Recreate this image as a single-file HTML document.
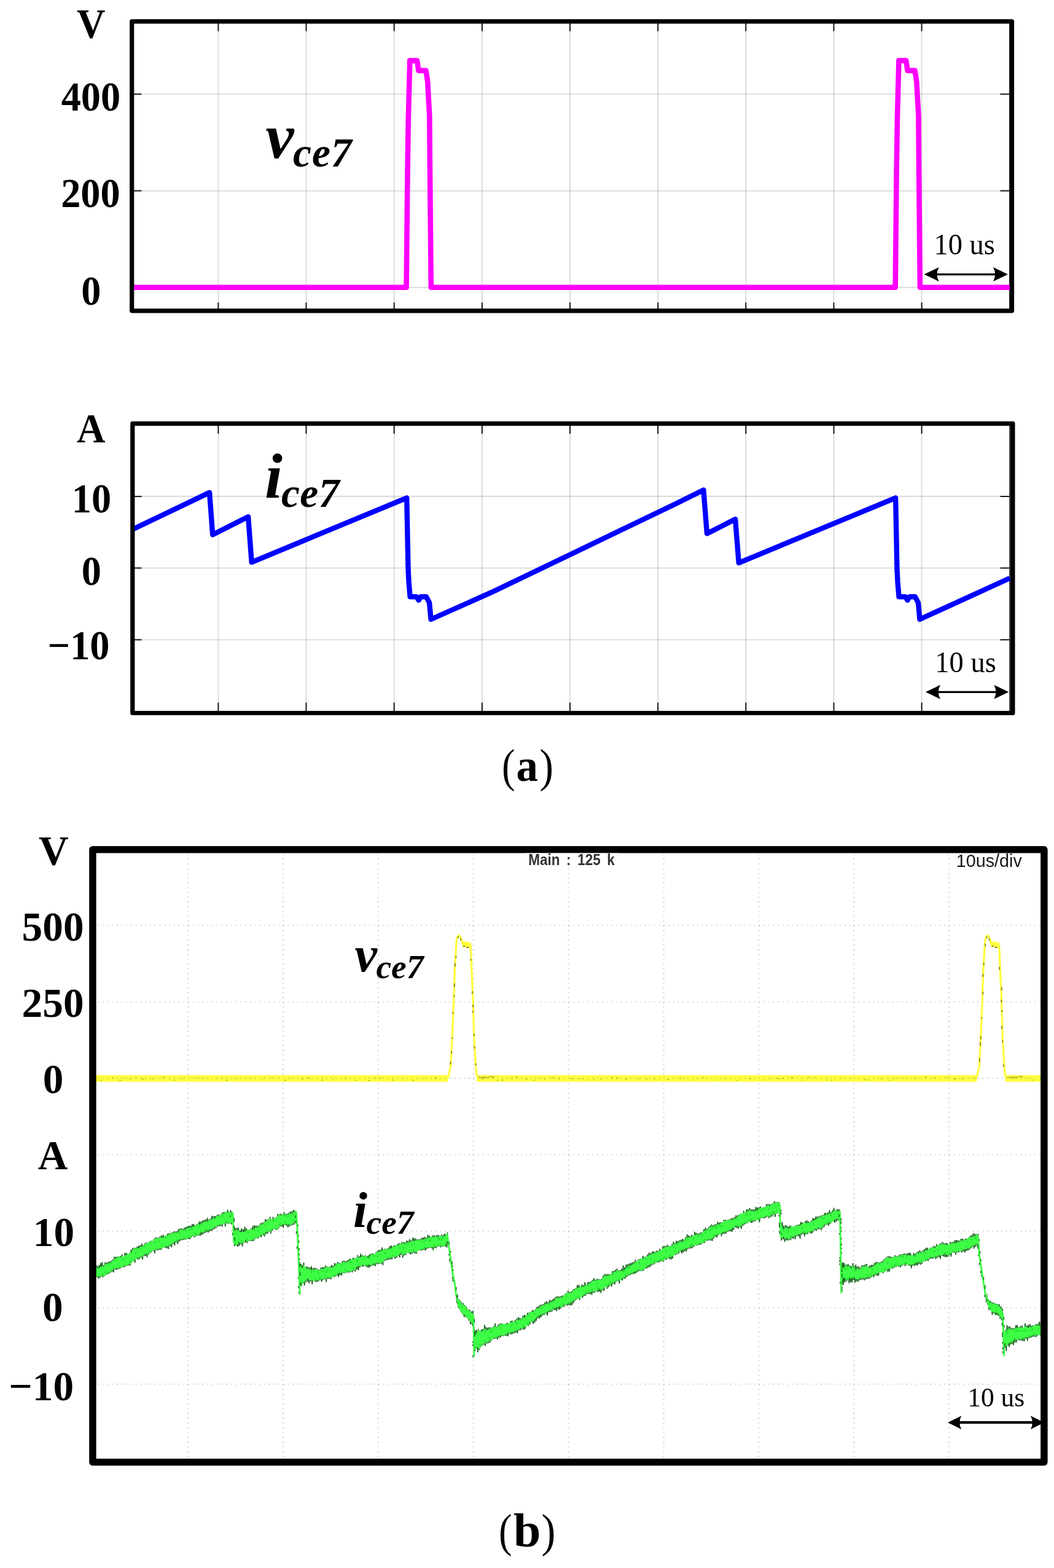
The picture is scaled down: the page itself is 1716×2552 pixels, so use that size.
<!DOCTYPE html>
<html lang="en"><head><meta charset="utf-8"><title>Waveforms of vce7 and ice7</title>
<style>
html,body{margin:0;padding:0;background:#fff;}
body{width:1716px;height:2552px;overflow:hidden;}
svg{display:block;}
.b{font-family:"Liberation Serif",serif;font-weight:bold;font-size:66px;fill:#000;text-anchor:middle;}
.r{font-family:"Liberation Serif",serif;font-size:48px;fill:#000;text-anchor:middle;}
.bi{font-family:"Liberation Serif",serif;font-weight:bold;font-style:italic;fill:#000;}
.cap{font-family:"Liberation Serif",serif;fill:#000;}
.s{font-family:"Liberation Sans",sans-serif;fill:#222;}
</style></head><body>
<svg width="1716" height="2552" viewBox="0 0 1716 2552">
<rect width="1716" height="2552" fill="#fff"/>
<path d="M355.4 34.9V505.8M498.5 34.9V505.8M641.7 34.9V505.8M784.9 34.9V505.8M928 34.9V505.8M1071.2 34.9V505.8M1214.3 34.9V505.8M1357.5 34.9V505.8M1500.6 34.9V505.8" stroke="#000" stroke-opacity="0.13" stroke-width="2.1" fill="none"/>
<path d="M214.7 153.3H1647.5M214.7 310.6H1647.5M214.7 467.9H1647.5" stroke="#000" stroke-opacity="0.13" stroke-width="2.1" fill="none"/>
<path d="M355.4 37.9V50.7M355.4 502.8V492.3M498.5 37.9V50.7M498.5 502.8V492.3M641.7 37.9V50.7M641.7 502.8V492.3M784.9 37.9V50.7M784.9 502.8V492.3M928 37.9V50.7M928 502.8V492.3M1071.2 37.9V50.7M1071.2 502.8V492.3M1214.3 37.9V50.7M1214.3 502.8V492.3M1357.5 37.9V50.7M1357.5 502.8V492.3M1500.6 37.9V50.7M1500.6 502.8V492.3M217.7 153.3H230.4M1643.2 153.3H1628.4M217.7 310.6H230.4M1643.2 310.6H1628.4" stroke="#1a1a1a" stroke-width="2" fill="none"/>
<path d="M1644.3 37.9V502.8" stroke="#2b2b2b" stroke-width="2.6" fill="none"/>
<polyline points="214,467.7 661.6,467.7 663.5,280 664.8,194 667.3,98.6 679,98.6 681.5,114.9 693.4,114.9 696.2,132.7 699.3,188.2 700,280 701.8,467.7 1457.7,467.7 1459.6,280 1460.9,194 1463.4,98.6 1475.1,98.6 1477.6,114.9 1489.5,114.9 1492.3,132.7 1495.4,188.2 1496.1,280 1497.9,467.7 1644,467.7" fill="none" stroke="#ff00ff" stroke-width="8.6" stroke-linejoin="round"/>
<rect x="214.7" y="34.9" width="1432.8" height="470.9" fill="none" stroke="#000" stroke-width="7.2" stroke-linejoin="round"/>
<text class="b" transform="translate(148.30 61.00) scale(0.975 1.025)">V</text>
<text class="b" transform="translate(147.90 180.40) scale(0.975 1.025)">400</text>
<text class="b" transform="translate(147.40 337.40) scale(0.975 1.025)">200</text>
<text class="b" transform="translate(148.40 495.60) scale(0.975 1.025)">0</text>
<text class="bi" x="432.50" y="257.20" font-size="103.5">v<tspan font-size="67.5" dy="14" dx="-1.5" letter-spacing="1">ce7</tspan></text>
<text transform="translate(1520.47 414.15) scale(0.4653 0.4799)" style="font-family:'Liberation Serif',serif;font-size:100px" fill="#000">10 us</text>
<path d="M1523.8 446.6H1621.8" stroke="#000" stroke-width="3.3" fill="none"/>
<path d="M1504.6 446.6L1528.6 435.1Q1522.4 446.6 1528.6 458.1Z" fill="#000"/>
<path d="M1641 446.6L1617 435.1Q1623.2 446.6 1617 458.1Z" fill="#000"/>
<path d="M355.4 689.3V1160.5M498.5 689.3V1160.5M641.7 689.3V1160.5M784.9 689.3V1160.5M928 689.3V1160.5M1071.2 689.3V1160.5M1214.3 689.3V1160.5M1357.5 689.3V1160.5M1500.6 689.3V1160.5" stroke="#000" stroke-opacity="0.13" stroke-width="2.1" fill="none"/>
<path d="M215.8 807.9H1648.9M215.8 924.5H1648.9M215.8 1041.2H1648.9" stroke="#000" stroke-opacity="0.13" stroke-width="2.1" fill="none"/>
<path d="M355.4 692.3V705.9M355.4 1157.5V1143.6M498.5 692.3V705.9M498.5 1157.5V1143.6M641.7 692.3V705.9M641.7 1157.5V1143.6M784.9 692.3V705.9M784.9 1157.5V1143.6M928 692.3V705.9M928 1157.5V1143.6M1071.2 692.3V705.9M1071.2 1157.5V1143.6M1214.3 692.3V705.9M1214.3 1157.5V1143.6M1357.5 692.3V705.9M1357.5 1157.5V1143.6M1500.6 692.3V705.9M1500.6 1157.5V1143.6M218.8 807.9H230.6M1643.4 807.9H1628.5M218.8 924.5H230.6M1643.4 924.5H1628.5M218.8 1041.2H230.6M1643.4 1041.2H1628.5" stroke="#1a1a1a" stroke-width="2" fill="none"/>
<path d="M1644.5 692.3V1157.5" stroke="#2b2b2b" stroke-width="2.6" fill="none"/>
<polyline points="215,862 341.1,801.6 346.2,870.2 404.1,841.1 409.7,915.1 662.2,810.3 663.6,880 664.5,925 665.6,947 667.6,971.2 677.9,971.2 681.7,976.8 685,971.2 693.9,971.2 699,980.7 701.6,1008 800,964.2 940,897 1100,820 1145.4,797.5 1151,868.4 1197.1,845 1202.8,916.1 1458.1,810.3 1459.5,880 1460.4,925 1461.5,947 1463.5,971.2 1473.8,971.2 1477.6,976.8 1480.9,971.2 1489.8,971.2 1494.9,980.7 1497.5,1008 1644,941" fill="none" stroke="#0000ff" stroke-width="8.4" stroke-linejoin="round"/>
<rect x="215.8" y="689.3" width="1433.1" height="471.2" fill="none" stroke="#000" stroke-width="7.2" stroke-linejoin="round"/>
<text class="b" transform="translate(148.30 720.00) scale(0.975 1.025)">A</text>
<text class="b" transform="translate(148.90 833.50) scale(0.975 1.025)">10</text>
<text class="b" transform="translate(148.90 952.30) scale(0.975 1.025)">0</text>
<text class="b" transform="translate(128.00 1073.00) scale(0.975 1.025)">−10</text>
<text class="bi" x="431.00" y="810.30" font-size="104">i<tspan font-size="67.5" dy="14.3" dx="-2" letter-spacing="0.5">ce7</tspan></text>
<text transform="translate(1522.37 1094.05) scale(0.4648 0.4828)" style="font-family:'Liberation Serif',serif;font-size:100px" fill="#000">10 us</text>
<path d="M1526.1 1126.3H1623.1" stroke="#000" stroke-width="3.3" fill="none"/>
<path d="M1506.9 1126.3L1530.9 1114.8Q1524.7 1126.3 1530.9 1137.8Z" fill="#000"/>
<path d="M1642.3 1126.3L1618.3 1114.8Q1624.5 1126.3 1618.3 1137.8Z" fill="#000"/>
<text transform="translate(816.98 1271.75) scale(0.6501 0.7603)" style="font-family:'Liberation Serif',serif;font-size:100px" fill="#000">(</text>
<text transform="translate(840.61 1270.95) scale(0.7079 0.7386)" style="font-family:'Liberation Serif',serif;font-weight:bold;font-size:100px" fill="#000">a</text>
<text transform="translate(878.60 1271.75) scale(0.6767 0.7603)" style="font-family:'Liberation Serif',serif;font-size:100px" fill="#000">)</text>
<path d="M306.1 1389.3V2379.8M461 1389.3V2379.8M615.9 1389.3V2379.8M770.7 1389.3V2379.8M925.6 1389.3V2379.8M1080.5 1389.3V2379.8M1235.3 1389.3V2379.8M1390.2 1389.3V2379.8M1545.1 1389.3V2379.8" stroke="#000" stroke-opacity="0.16" stroke-width="2.1" stroke-dasharray="2.1 5.678" fill="none"/>
<path d="M158.8 1506H1699.9M158.8 1630.5H1699.9M158.8 1879.3H1699.9M158.8 2003.8H1699.9M158.8 2128.2H1699.9M158.8 2252.7H1699.9" stroke="#000" stroke-opacity="0.16" stroke-width="2.1" stroke-dasharray="2.1 5.644" fill="none"/>
<path d="M152 1755.3H729.5" stroke="#ffff40" stroke-width="10.9" fill="none"/>
<path d="M775.8 1755.3H1590" stroke="#ffff40" stroke-width="10.9" fill="none"/>
<path d="M1636.3 1755.3H1696" stroke="#ffff40" stroke-width="10.9" fill="none"/>
<polyline points="728.6,1755.3 730.5,1750 733.7,1735 736.2,1690 738.7,1630 740.2,1582 743.1,1532 744.8,1524.5 747.6,1522.3 750.6,1527 753,1535.5 759,1537 766,1538 767,1556.5 768,1582 769.9,1620.3 772,1690 774.5,1735.1 776.3,1752" fill="none" stroke="#ffff40" stroke-width="3.3" stroke-linejoin="round"/>
<path d="M751 1531L766.5 1534V1543L753 1541Z" fill="#ffff40"/>
<path d="M733.4 1727.7v4.8M735.1 1710.9v3.8M736.3 1688.3v2.6M737.1 1647v2.8M739.7 1619.8v2.9M739.9 1600.6v5.8M740.8 1567.6v5.9M742.4 1555.8v3.5M766.4 1560.2v3.6M768.9 1613.3v4.5M770.1 1635.1v4.4M769.8 1645v3.2M771.6 1682.6v3.6M772.6 1703.2v3.5M774.6 1730.5v3.4M754 1540h3M759 1542h4M746 1524v3M750 1527v4" stroke="#5f5f10" stroke-width="1.8" fill="none" stroke-opacity="0.75"/>
<polyline points="1589.1,1755.3 1591,1750 1594.2,1735 1596.7,1690 1599.2,1630 1600.7,1582 1603.6,1532 1605.3,1524.5 1608.1,1522.3 1611.1,1527 1613.5,1535.5 1619.5,1537 1626.5,1538 1627.5,1556.5 1628.5,1582 1630.4,1620.3 1632.5,1690 1635,1735.1 1636.8,1752" fill="none" stroke="#ffff40" stroke-width="3.3" stroke-linejoin="round"/>
<path d="M1611.5 1531L1627 1534V1543L1613.5 1541Z" fill="#ffff40"/>
<path d="M1595 1722.1v5.6M1595.9 1696.1v5.9M1596.7 1686.5v5.1M1598.1 1655.4v2.6M1600.2 1614v4.5M1600.2 1585v4.9M1601.7 1567.1v4.1M1604.3 1536v4.2M1627.3 1573.4v5M1630.7 1606.8v5.4M1630.4 1626.9v4.8M1631 1644.1v3.1M1631 1669.5v5.2M1632.2 1692.9v3.9M1634 1732.2v4.1M1614.5 1540h3M1619.5 1542h4M1606.5 1524v3M1610.5 1527v4" stroke="#5f5f10" stroke-width="1.8" fill="none" stroke-opacity="0.75"/>
<path d="M163 1758.2h3M182.7 1754.8h2M193.8 1758.2h3.4M201.3 1754.3h1.6M210.3 1756h2.5M219.8 1753.3h2M231.1 1756.4h3.4M247.8 1756.1h2.5M264.3 1753.6h3.2M282.5 1758.1h3M294.2 1755.5h1.3M310 1753.6h1.2M318.5 1754.2h1.9M324.4 1753.3h1.4M331.2 1755.3h1.1M351 1756.7h1.4M360.3 1755.2h1.9M367.4 1758h3.5M380.3 1756h1.2M387.1 1755.2h1.7M406.2 1754.2h1.1M427.3 1756.2h1.4M441.6 1753.4h2.3M463.2 1758h2.7M472.6 1755.3h1.4M490.8 1756.2h2.9M501.4 1754.5h3M523.1 1758h3M542 1757.4h1.6M555.8 1755.3h1.1M561.3 1754.8h1.6M578.1 1758.6h2.1M599 1758.7h3.4M610.2 1754.5h1.6M618.5 1754.4h2.6M638.8 1757.9h2.2M654.9 1757.7h1.2M671.2 1758.3h3M688.9 1755.9h1.4M707.3 1755.1h3M783.7 1755.5h3.4M801 1754.2h1.3M808.6 1758.3h3M816.1 1757.8h3.5M832.3 1755.2h2.4M839.5 1753.4h3.4M855.5 1756.2h3.3M867.9 1758.1h3.1M876.5 1754.7h1.7M885.6 1756.5h1.6M897.7 1754h3.3M908.7 1755.8h2.5M929.1 1755.6h3.3M942.6 1756.2h2.3M947.9 1755.7h1.5M953 1757.7h1.4M966.1 1757.3h2.4M976.6 1756.2h2.4M994.9 1753.9h2.4M1004.2 1754.8h2.9M1017.8 1756.4h2.9M1038.3 1755.7h2.5M1051.9 1756.1h2.7M1064.6 1756.2h2.2M1085.6 1757.1h3.2M1106.6 1754.7h2.4M1127.6 1757.9h1.3M1134.7 1755.7h1.2M1143.8 1753.7h2.7M1162.1 1758.2h1.4M1179.3 1756.9h1.4M1199.3 1758.6h1.5M1220.5 1755.5h2.2M1242.3 1757.9h1.4M1254.7 1756.1h1.8M1263 1755.1h2.8M1268.3 1756.3h2.1M1273.6 1755.1h2.6M1287.3 1753.7h3.5M1305.7 1758.6h1.3M1315.3 1753.5h2.9M1324.9 1754h2.1M1345.4 1757.8h1.6M1352.9 1758.4h2.4M1369.8 1753.8h1.1M1386.5 1755.6h1.2M1407.5 1756.8h3M1413.9 1758h1.2M1433.5 1755.8h1.8M1447.9 1758.4h1.7M1455.1 1756.2h1.6M1462 1754.2h1.1M1470.4 1755h1.8M1488.3 1754.9h2.3M1496.4 1755.2h1M1505.6 1753.4h2.8M1520 1754.3h2.2M1540.9 1753.9h3M1553.2 1756h3.1M1564.9 1756.1h2.7M1586.6 1755.2h3.1M1649 1755.5h1.9M1654.9 1754h1.2M1672.5 1754.7h1.4M1679 1757.9h3.2M779 1752l4 2l5 -1l5 1l6 -2l6 1M1639.5 1752l4 2l5 -1l5 1l6 -2l6 1" stroke="#8f8f1c" stroke-width="1.3" fill="none" stroke-opacity="0.7"/>
<path d="M158.8 1754.9H1699.9" stroke="#000" stroke-opacity="0.17" stroke-width="2.1" stroke-dasharray="2.1 5.644" fill="none"/>
<path d="M152 2063L153.1 2082.6L154.3 2061.1L155.4 2080.8L156.6 2059.1L157.7 2078.4L158.9 2061L160.2 2081.2L161.4 2058.9L162.6 2079.6L163.9 2055.5L165.1 2077.3L166.4 2054.4L167.6 2078.9L168.8 2059.3L170.1 2076.6L171.3 2054.3L172.5 2075.1L173.8 2054.8L175 2073.8L176.3 2053.7L177.5 2072.9L178.7 2053L180 2071.5L181.2 2051.9L182.4 2069.6L183.7 2049.9L184.9 2071L186.2 2045.5L187.4 2065.9L188.6 2045.4L189.9 2067L191.1 2045.5L192.3 2065.4L193.6 2044.8L194.8 2065.1L196.1 2044.3L197.3 2063.8L198.5 2041.3L199.8 2061.9L201 2045.3L202.2 2062.8L203.5 2039.1L204.7 2060.6L206 2039.2L207.2 2060.1L208.5 2041.3L209.7 2059.6L211 2039L212.2 2059.8L213.4 2033.9L214.7 2054.1L215.9 2031.5L217.2 2052.3L218.4 2030.6L219.7 2055.1L220.9 2031.2L222.1 2049.1L223.4 2028.7L224.6 2050.2L225.9 2027.4L227.1 2049.1L228.4 2027L229.6 2047.2L230.9 2024L232.1 2050.3L233.3 2026.7L234.6 2044.5L235.8 2023.8L237.1 2044.3L238.3 2021.7L239.6 2046.4L240.8 2023L242 2042L243.3 2020.6L244.5 2039.8L245.8 2019.2L247 2037.7L248.3 2019.5L249.5 2035.8L250.8 2016.6L252 2040L253.2 2013.9L254.5 2034.5L255.7 2014.2L257 2035.1L258.2 2014.4L259.5 2034.2L260.7 2011.9L262 2034.1L263.2 2010.9L264.4 2031.7L265.7 2009.7L266.9 2030L268.2 2011.7L269.4 2031.1L270.7 2010.6L271.9 2031.7L273.1 2007.7L274.4 2033L275.6 2006.9L276.9 2028.1L278.1 2007.2L279.4 2030.1L280.6 2005.4L281.9 2024.5L283.1 2004.4L284.3 2027.3L285.6 2004.4L286.8 2021.6L288.1 2004.1L289.3 2024.9L290.6 2000.3L291.8 2020.7L293 1999.6L294.3 2019.1L295.5 1999.3L296.8 2018.2L298 2000L299.3 2018L300.5 1998L301.8 2017.4L303 1996.7L304.2 2016.4L305.5 1995.5L306.7 2016.8L307.9 1994.7L309.2 2016.8L310.4 1995L311.6 2013.6L312.9 1992.2L314.1 2011.9L315.4 1992L316.6 2014L317.8 1994.4L319.1 2012.3L320.3 1992.8L321.5 2010.9L322.8 1990.2L324 2010.9L325.2 1987.6L326.5 2011.4L327.7 1988.4L328.9 2009.6L330.2 1986.4L331.4 2008.2L332.7 1985.3L333.9 2006.8L335.1 1985L336.4 2005L337.6 1982.1L338.8 2006.3L340.1 1984.8L341.3 2004.4L342.6 1983.4L343.9 2003.5L345.1 1978.8L346.4 2002.2L347.7 1979.4L349 2000.3L350.2 1979.1L351.5 1998.9L352.8 1978.3L354.1 1996.3L355.3 1976.3L356.6 1996.2L357.9 1977.9L359.1 1995.1L360.4 1975.1L361.7 1996.4L363 1972.7L364.2 1992.2L365.5 1972.5L366.8 1996.1L368 1972.5L369.3 1991.2L370.6 1968.9L371.8 1991.6L373.1 1972.2L374.3 1991.1L375.6 1969.9L376.8 1992.8L378.1 1972.9L379.3 1989.8M380.3 1997.3L381.9 2028.2L383.4 1998.6L384.6 2027.1L385.9 1998.3L387.1 2028.9L388.3 1998.3L389.5 2027.6L390.8 2002.4L392 2025.3L393.3 1999.1L394.6 2028.7L395.9 2000.6L397.2 2022.9L398.6 1996.6L399.9 2022.2L401.2 1999.3L402.5 2023.2L403.8 2001.9L405.1 2019.9L406.4 2001.3L407.6 2019.6L408.9 1999.4L410.2 2020L411.4 1995.6L412.7 2019.9L414 1994L415.3 2016.6L416.6 1994.7L417.8 2015.2L419.1 1995.2L420.4 2015.6L421.7 1994.1L422.9 2012.7L424.2 1990.7L425.5 2013.8L426.8 1989.9L428 2010.4L429.3 1989.6L430.6 2012.4L431.9 1984.4L433.1 2008.6L434.4 1985.4L435.7 2007.9L436.9 1983.7L438.2 2004.1L439.5 1980.5L440.8 2007.4L442.1 1984.8L443.3 2003L444.6 1980.6L445.9 2000.1L447.2 1983L448.4 2001.5L449.7 1980.9L451 2001.7L452.2 1975.7L453.5 1999.4L454.8 1976.2L456.1 1996.1L457.3 1975.3L458.6 1996.2L459.9 1976.7L461.1 1998.4L462.4 1972.9L463.7 1994L464.9 1975.8L466.2 1994.9L467.5 1975.3L468.7 1997.6L470 1974.1L471.3 1996L472.6 1971.9L473.9 1994.7L475.2 1971.5L476.5 1993.9L477.8 1969.1L479 1993.2L480.1 1970.5L481.3 1990.3L482.5 1971.6M487.8 2053.8L488.9 2093.3L489.9 2057L491 2092.7L492.2 2058.9L493.4 2088.5L494.5 2054.7L495.7 2092.1L496.9 2062.2L498.2 2086.7L499.4 2061.1L500.7 2086.3L501.9 2062.4L503.2 2088.6L504.5 2062.5L505.7 2085.5L507 2061L508.3 2090.1L509.6 2063.9L510.9 2084.7L512.2 2063.3L513.4 2086.2L514.7 2063.7L516 2086.8L517.3 2065.6L518.6 2085.4L519.9 2066.6L521.1 2083.5L522.4 2063.1L523.6 2086.1L524.9 2062.2L526.2 2083.5L527.4 2062.4L528.7 2082L530 2059.5L531.2 2086.8L532.5 2061.3L533.7 2081.5L535 2062.5L536.2 2081.5L537.5 2061.1L538.7 2082.1L540 2058.9L541.2 2078.2L542.5 2060.4L543.7 2078.6L544.9 2055.5L546.2 2077.4L547.4 2056.9L548.7 2076.4L549.9 2053.8L551.2 2078.4L552.4 2055.2L553.6 2075.4L554.9 2055.9L556.1 2076L557.4 2052.6L558.6 2072.3L559.9 2051.9L561.1 2072.5L562.4 2052.6L563.6 2071.5L564.8 2051.8L566.1 2070.9L567.3 2050.2L568.6 2071.1L569.8 2048.4L571.1 2069.6L572.3 2049.9L573.5 2070.9L574.8 2047.1L576 2068.3L577.3 2048.6L578.5 2069.8L579.8 2047.1L581 2066.2L582.2 2042.8L583.5 2067.5L584.7 2044.9L586 2062.8L587.2 2040.3L588.5 2060.7L589.7 2042.7L591 2061.6L592.2 2044.1L593.4 2060.1L594.7 2042.6L595.9 2061.4L597.2 2044.5L598.4 2062.9L599.7 2043.3L600.9 2063.5L602.1 2041.3L603.4 2061.5L604.6 2040.2L605.9 2060L607.1 2040L608.4 2059.7L609.6 2041.5L610.9 2060.7L612.1 2038L613.3 2057.5L614.6 2035.9L615.8 2057.3L617.1 2034.3L618.3 2057L619.6 2034L620.8 2056.8L622 2030.2L623.3 2059.2L624.5 2033.6L625.8 2052.5L627 2032.2L628.3 2051.2L629.5 2033.3L630.8 2051L632 2031.1L633.2 2050.2L634.5 2028.3L635.7 2049.8L637 2027L638.2 2049.6L639.5 2028.4L640.7 2045.8L642 2026.9L643.2 2048.6L644.4 2027.2L645.7 2047L646.9 2025L648.2 2044.3L649.4 2023.1L650.7 2046.8L651.9 2024.2L653.1 2041.7L654.4 2021.3L655.6 2047L656.9 2021.7L658.1 2043.5L659.4 2021.8L660.6 2042.8L661.9 2019.1L663.1 2038.9L664.3 2019.7L665.6 2039.6L666.8 2016.6L668.1 2041.7L669.3 2018.8L670.6 2040.8L671.8 2014.4L673 2038.6L674.3 2014.7L675.5 2040.2L676.8 2015.8L678 2040.4L679.3 2017.4L680.5 2035.4L681.8 2017L683 2035L684.2 2016.5L685.5 2035.8L686.7 2014.3L687.9 2034.4L689.2 2014.3L690.4 2034.6L691.6 2013.1L692.9 2035.1L694.1 2014.6L695.4 2032.5L696.6 2009.7L697.8 2031.2L699.1 2011.2L700.3 2030.7L701.5 2013.4L702.8 2031.6L704 2011.1L705.2 2034.8L706.5 2009.9L707.7 2031.3L708.9 2011.9L710.2 2031.5L711.4 2009.8L712.7 2029L713.9 2010.4L715.1 2028.4L716.4 2011.6L717.6 2030.3L718.8 2009.2L720.1 2028.8L721.3 2010.2L722.5 2028.8L723.7 2007.9L725 2028.5L726.2 2008.9L727.4 2030.4L728.6 2005.6M742.6 2105L743.7 2116.9L744.9 2110.9L746 2128.1L747.2 2114.6L748.4 2131.3L749.5 2117L750.7 2135.7L751.9 2119.9L753.1 2138.9L754.3 2121.4L755.6 2143.4L756.8 2124.1L758 2143.5L759.3 2126.8L760.6 2145.4L762 2130.5L763.3 2149.2L764.6 2131.3L766 2155.5L767.4 2134.3L768.8 2155.7L770.2 2133.1M771.6 2158.8L772.7 2199.4L773.7 2165.1L774.8 2194.4L776.2 2164.2L777.6 2200.9L779 2163L780.2 2197.5L781.4 2166.1L782.6 2192.4L783.8 2163.8L785.1 2189.6L786.3 2163L787.6 2188.6L788.9 2156.3L790.1 2190.4L791.4 2159.9L792.7 2186.7L794 2160.9L795.2 2186.1L796.5 2160L797.7 2185.1L799 2160.7L800.2 2182L801.4 2160.6L802.6 2179.3L803.9 2158.4L805.1 2179.1L806.3 2153.8L807.5 2178.6L808.8 2159.2L810 2180.3L811.2 2155.9L812.4 2177.3L813.6 2154.5L814.8 2176.8L816 2153.9L817.2 2174.4L818.4 2154.7L819.6 2174.8L820.8 2155.4L822 2173.6L823.3 2154.2L824.6 2174.6L825.8 2152.8L827.1 2174.6L828.4 2153.8L829.7 2170.6L831 2150.4L832.2 2172L833.5 2149L834.8 2171.2L836.1 2151L837.4 2169.7L838.6 2148.3L839.9 2168.9L841.2 2146.3L842.5 2170L843.8 2143.8L845 2165.2L846.3 2144.8L847.6 2165.2L848.9 2145.8L850.1 2163L851.4 2141.3L852.7 2164.4L854 2140.1L855.2 2162.7L856.5 2140.5L857.8 2157.4L859.1 2136.6L860.4 2158.1L861.6 2136.3L862.9 2155.1L864.2 2135.3L865.5 2151.3L866.7 2132.1L868 2154.8L869.3 2132.9L870.6 2152.6L871.8 2130.7L873.1 2149.6L874.4 2126.7L875.6 2145.4L876.9 2125.7L878.2 2146.5L879.5 2123.6L880.8 2144L882 2123.3L883.3 2141.1L884.6 2122.2L885.9 2139.9L887.1 2119.6L888.4 2137.6L889.7 2117.6L891 2141.2L892.2 2119.5L893.5 2135.7L894.8 2115.8L896.1 2135.5L897.3 2116.2L898.6 2134.8L899.9 2114.8L901.1 2131.9L902.4 2112.5L903.6 2132.5L904.9 2110.9L906.2 2133.9L907.4 2109.2L908.7 2130.8L910 2110.4L911.2 2131.8L912.5 2109.5L913.7 2129.2L915 2108.7L916.2 2126.7L917.5 2108.5L918.7 2126.6L920 2106L921.2 2123.7L922.5 2103.9L923.7 2125.2L924.9 2100.6L926.2 2124.1L927.4 2102.7L928.7 2124.9L929.9 2102L931.2 2124.2L932.4 2099.2L933.6 2121L934.9 2097.7L936.1 2117.2L937.4 2096.5L938.6 2114.9L939.9 2091.5L941.1 2113.5L942.4 2091.1L943.6 2115.9L944.8 2093.7L946.1 2111.2L947.3 2090.6L948.6 2112.1L949.8 2091.5L951.1 2109.1L952.3 2086.9L953.5 2108.7L954.8 2091.2L956 2106L957.3 2086.2L958.5 2106.1L959.8 2086.5L961 2106.3L962.2 2085.4L963.5 2107.4L964.7 2082.7L966 2103.9L967.2 2080.2L968.5 2103.9L969.7 2083.1L971 2101L972.2 2081.4L973.4 2102.9L974.7 2081.6L975.9 2102.2L977.2 2082.2L978.4 2104.5L979.7 2080.9L980.9 2099.4L982.1 2075.9L983.4 2101.1L984.6 2073.5L985.9 2093.9L987.1 2073.7L988.4 2097.6L989.6 2073.3L990.9 2094.9L992.1 2074.1L993.3 2092.1L994.6 2073.1L995.8 2093.9L997.1 2068.7L998.3 2089.2L999.6 2068.2L1000.8 2090.6L1002 2066.7L1003.3 2086L1004.5 2064.7L1005.8 2085.1L1007 2067.5L1008.3 2089L1009.5 2067.1L1010.8 2083L1012 2065.2L1013.2 2084.1L1014.5 2059.6L1015.7 2081.1L1017 2062.7L1018.2 2081.3L1019.5 2057.8L1020.7 2078L1022 2057.8L1023.2 2075.6L1024.4 2056.4L1025.7 2075.6L1026.9 2055.7L1028.2 2073.8L1029.4 2054.3L1030.7 2073.7L1031.9 2054L1033.1 2073L1034.4 2050.1L1035.6 2072.3L1036.9 2052.8L1038.1 2069.9L1039.4 2049.8L1040.6 2068.7L1041.9 2049L1043.1 2068.5L1044.3 2048.9L1045.6 2068.6L1046.8 2044.1L1048.1 2067.6L1049.3 2045.5L1050.6 2064.6L1051.8 2045.5L1053 2064.4L1054.3 2041.7L1055.5 2063.1L1056.8 2038.6L1058 2062.1L1059.3 2040L1060.5 2059.7L1061.8 2037.1L1063 2057.9L1064.2 2036.6L1065.5 2057.5L1066.7 2037.2L1067.9 2055L1069.2 2035.5L1070.4 2054.6L1071.6 2035.9L1072.9 2054.5L1074.1 2032.3L1075.4 2052.9L1076.6 2034.8L1077.8 2052.5L1079.1 2028.5L1080.3 2053.4L1081.5 2028L1082.8 2049.8L1084 2028L1085.2 2050.4L1086.5 2025.7L1087.7 2047.7L1088.9 2027.8L1090.2 2049.2L1091.4 2028L1092.6 2050.3L1093.9 2025.2L1095.1 2048.1L1096.4 2020.9L1097.6 2042.4L1098.8 2023L1100.1 2042.8L1101.3 2019.3L1102.5 2041.3L1103.8 2020.1L1105 2040.2L1106.2 2018.5L1107.5 2037.1L1108.7 2017.9L1110 2039.6L1111.2 2016.3L1112.5 2038.5L1113.7 2017.3L1114.9 2036.1L1116.2 2013.8L1117.4 2036.9L1118.7 2009.1L1119.9 2033.3L1121.2 2010.5L1122.4 2031.8L1123.6 2012L1124.9 2032.2L1126.1 2009.5L1127.4 2030.9L1128.6 2011.3L1129.9 2028.9L1131.1 2004.8L1132.4 2026.1L1133.6 2006.5L1134.8 2027L1136.1 2007.7L1137.3 2026.4L1138.6 2007.4L1139.8 2025.9L1141.1 2005.5L1142.3 2024.6L1143.5 2005.9L1144.8 2023.1L1146 2000.7L1147.3 2022.9L1148.5 1998.1L1149.8 2019.1L1151 2000.2L1152.2 2019.5L1153.5 1997.6L1154.7 2018.5L1156 1995L1157.2 2019.1L1158.5 1992.8L1159.7 2019.7L1161 1994.2L1162.2 2015.6L1163.4 1992.7L1164.7 2013L1165.9 1992.3L1167.2 2014.3L1168.4 1988.4L1169.7 2010.6L1170.9 1989.9L1172.1 2008.3L1173.4 1989.3L1174.6 2012.3L1175.9 1989.5L1177.1 2008.5L1178.4 1985.3L1179.6 2007.9L1180.9 1985.3L1182.1 2007.8L1183.3 1985.9L1184.6 2005L1185.8 1985.3L1187.1 2003.9L1188.3 1984.1L1189.6 2004.3L1190.8 1982.7L1192 2004.7L1193.3 1982.2L1194.5 2001.4L1195.8 1981.4L1197 1997.4L1198.3 1977.9L1199.5 1998.6L1200.8 1978.2L1202 1999.8L1203.2 1977.3L1204.5 1996.9L1205.7 1975.3L1206.9 1999.9L1208.2 1975.7L1209.4 1995.3L1210.6 1970.6L1211.9 1992.9L1213.1 1972.8L1214.4 1991.5L1215.6 1968L1216.8 1991.1L1218.1 1968.5L1219.3 1988.2L1220.5 1966L1221.8 1990L1223 1968.6L1224.2 1990.4L1225.5 1968.3L1226.7 1988.3L1227.9 1968.6L1229.2 1987.9L1230.4 1964.2L1231.7 1984.8L1232.9 1965.3L1234.1 1984.9L1235.4 1965.1L1236.6 1989.2L1237.8 1963.6L1239.1 1982.8L1240.3 1965.6L1241.6 1982.5L1242.8 1964.7L1244.1 1983.2L1245.4 1964.7L1246.7 1982L1247.9 1959.7L1249.2 1980.3L1250.5 1959.5L1251.8 1982.6L1253 1960.1L1254.3 1981.1L1255.6 1960.2L1256.9 1980L1258.1 1958L1259.4 1976.9L1260.7 1955L1262 1980.7L1263.2 1956.5L1264.5 1975.1L1265.8 1956L1267 1974.4L1268.3 1957L1269.6 1976M1270.8 1991.2L1272.2 2019.1L1273.5 1988.8L1274.9 2017.3L1276.2 1994.9L1277.6 2021.3L1279 1993.8L1280.2 2018.4L1281.4 1995.3L1282.6 2019.3L1283.8 1996.7L1285 2017.6L1286.2 1994.6L1287.3 2018.4L1288.5 1995.3L1289.7 2015.4L1290.8 1996.9L1292 2015.8L1293.3 1995.7L1294.7 2016.9L1296 1993.7L1297.3 2011.8L1298.7 1993.6L1300 2012.3L1301.2 1992.7L1302.5 2015.9L1303.7 1988.9L1304.9 2009.8L1306.2 1989.2L1307.4 2008.1L1308.6 1990.8L1309.8 2012.2L1311.1 1987.5L1312.3 2008.8L1313.5 1985.9L1314.8 2008.4L1316 1988.1L1317.2 2005.9L1318.5 1988.5L1319.7 2007.8L1320.9 1986.9L1322.1 2007.3L1323.4 1982.4L1324.6 2004.5L1325.8 1982.9L1327.1 2002.1L1328.3 1980L1329.5 2002.9L1330.8 1979.7L1332 2000.8L1333.2 1980L1334.4 2000.3L1335.7 1978.5L1336.9 2002.2L1338.1 1978.1L1339.3 1999.3L1340.6 1977L1341.8 1996.6L1343 1973.9L1344.2 1993.7L1345.5 1974.6L1346.7 1993.5L1347.9 1973.6L1349.2 1994.6L1350.4 1969.6L1351.6 1991.8L1352.8 1973L1354.1 1989.8L1355.3 1969.8L1356.5 1988L1357.7 1965.8L1359 1990.2L1360.2 1969.9L1361.6 1988.1L1363.1 1967.7L1364.5 1986.4L1365.9 1968.1L1367.3 1988.2M1369.6 2055.4L1370.7 2091.8L1371.8 2054.6L1372.9 2091.1L1374.1 2055.4L1375.3 2086.9L1376.5 2058.3L1377.6 2086.1L1378.8 2057.7L1380 2083.9L1381.2 2057.5L1382.4 2088.7L1383.6 2059.7L1384.8 2087.1L1386 2060.8L1387.2 2087.1L1388.4 2055.8L1389.6 2083.2L1390.8 2060.3L1392 2087.8L1393.3 2058.2L1394.6 2085.8L1395.8 2061.2L1397.1 2085.9L1398.4 2061.3L1399.7 2083.6L1401 2063L1402.2 2083.2L1403.5 2059L1404.8 2082.5L1406.1 2059.4L1407.4 2083.9L1408.6 2057.5L1409.9 2082.1L1411.2 2057L1412.5 2081.6L1413.8 2061.5L1415 2081.3L1416.3 2059.2L1417.6 2079.7L1418.9 2058.6L1420.1 2077.5L1421.4 2058.2L1422.7 2078.6L1424 2055.4L1425.2 2075.2L1426.5 2053.6L1427.8 2076.2L1429.1 2054L1430.3 2076.5L1431.6 2055.1L1432.9 2070.7L1434.2 2053.9L1435.4 2070.8L1436.7 2052.4L1438 2072.3L1439.3 2049.6L1440.5 2069.9L1441.8 2047.5L1443.1 2068.3L1444.4 2045L1445.6 2070.4L1446.9 2044.6L1448.2 2069.5L1449.5 2044.5L1450.8 2064.3L1452 2046L1453.3 2064.8L1454.6 2045.9L1455.8 2063.4L1457.1 2043.1L1458.4 2062.3L1459.7 2044.6L1460.9 2061.8L1462.2 2043.8L1463.5 2061.4L1464.8 2041.8L1466 2062.7L1467.3 2041.3L1468.6 2060.5L1469.9 2041L1471.1 2058.1L1472.4 2039.7L1473.6 2060.8L1474.9 2040.8L1476.2 2058L1477.4 2039.5L1478.7 2059.6L1479.9 2038.7L1481.2 2060L1482.4 2039.3L1483.7 2064.1L1485 2043.1L1486.2 2059.7L1487.5 2039.2L1488.7 2060.5L1490 2040.5L1491.2 2059.4L1492.5 2038.2L1493.7 2059.6L1495 2036.9L1496.2 2057.2L1497.5 2034.7L1498.7 2058.4L1499.9 2037.6L1501.2 2056.6L1502.4 2035.1L1503.7 2052.6L1504.9 2033.1L1506.2 2052.8L1507.4 2030.7L1508.6 2051.4L1509.9 2030.7L1511.1 2052.1L1512.4 2032.7L1513.6 2049.2L1514.8 2030.9L1516.1 2048.1L1517.3 2029.8L1518.6 2049L1519.8 2027.8L1521.1 2047.3L1522.3 2028.6L1523.5 2049.1L1524.8 2024.7L1526 2047L1527.3 2026.9L1528.5 2046.3L1529.8 2024.3L1531 2048.8L1532.2 2023.2L1533.5 2043.8L1534.7 2021.3L1536 2044.9L1537.2 2023.8L1538.5 2045.9L1539.7 2023L1541 2046.1L1542.2 2023L1543.4 2045.4L1544.7 2025.5L1545.9 2042.2L1547.2 2021.3L1548.4 2045.1L1549.7 2021.9L1550.9 2038.3L1552.1 2021.1L1553.4 2038.6L1554.6 2018.5L1555.9 2041.9L1557.1 2018.1L1558.4 2038.8L1559.6 2018.6L1560.9 2038.1L1562.1 2019.3L1563.3 2036.1L1564.6 2016L1565.8 2038.5L1567.1 2016L1568.3 2036.8L1569.6 2017.4L1570.8 2038.4L1572 2016.1L1573.3 2035.9L1574.5 2015.8L1575.8 2035.1L1577 2014.4L1578.3 2034.1L1579.5 2011.5L1580.8 2031.9L1582 2010.1L1583.3 2029.4L1584.7 2007L1586 2032.1L1587.3 2008.1L1588.6 2029L1589.9 2008.6L1591.3 2026.7L1592.6 2008.1M1604.6 2106L1605.7 2115.8L1606.8 2110.6L1607.9 2123.5L1609 2114.8L1610.3 2132.3L1611.6 2116.5L1612.9 2132.6L1614.2 2118.8L1615.5 2140L1616.8 2119.5L1618 2137.5L1619.3 2120.8L1620.6 2140.2L1621.9 2122.4L1623.2 2140.5L1624.4 2122.3L1625.7 2142L1627 2123.1L1628.3 2146.4L1629.6 2126.3L1630.9 2149.1L1632.2 2129.8M1634.3 2165.5L1635.8 2194.3L1637.2 2164.1L1638.4 2198.9L1639.5 2156.6L1640.7 2189.7L1641.8 2159.2L1643 2192.1L1644.2 2158.6L1645.3 2188.3L1646.5 2161.4L1647.7 2187.2L1648.8 2162.1L1650 2189.3L1651.2 2161.8L1652.5 2185.2L1653.8 2156.7L1655 2184.4L1656.2 2156.2L1657.5 2180.9L1658.8 2160.1L1660 2181.5L1661.3 2158.4L1662.6 2181.8L1663.9 2157.4L1665.1 2182.6L1666.4 2160.8L1667.7 2182.9L1669 2153.8L1670.3 2178.7L1671.6 2157.5L1672.8 2182.2L1674.1 2156.1L1675.4 2177.7L1676.7 2154.7L1678 2177.1L1679.2 2157.7L1680.5 2175.6L1681.8 2156.9L1683.1 2175.3L1684.3 2157.2L1685.6 2176.2L1686.9 2154.8L1688.2 2175.1L1689.5 2155L1690.7 2172.3L1692 2151.3L1693.3 2173.4L1694.7 2150.2L1696 2173.4" stroke="#0a5a10" stroke-width="1.7" fill="none" stroke-linejoin="miter" stroke-miterlimit="8"/>
<path d="M152 2063.3L153.1 2064.3L154.3 2063.4L155.4 2064.2L156.6 2063.4L157.7 2063.7L158.9 2063.7L160.2 2064.1L161.4 2064.9L162.6 2062.1L163.9 2061.8L165.1 2062.6L166.4 2060.6L167.6 2060.6L168.8 2062.1L170.1 2061.1L171.3 2058.1L172.5 2057.8L173.8 2057.5L175 2056.5L176.3 2056.5L177.5 2056.9L178.7 2056L180 2055L181.2 2054.1L182.4 2052.8L183.7 2052.2L184.9 2051.9L186.2 2049.1L187.4 2049.4L188.6 2048.4L189.9 2047.8L191.1 2047.9L192.3 2045.9L193.6 2045.1L194.8 2045.6L196.1 2046.7L197.3 2046.5L198.5 2044.3L199.8 2044.6L201 2045.6L202.2 2044.2L203.5 2044.6L204.7 2043.3L206 2042.8L207.2 2041.3L208.5 2042.1L209.7 2041.5L211 2039.3L212.2 2038.6L213.4 2038.9L214.7 2037.2L215.9 2034.5L217.2 2033.2L218.4 2032.2L219.7 2031.3L220.9 2032.4L222.1 2031.8L223.4 2032.4L224.6 2031.7L225.9 2032.1L227.1 2030.8L228.4 2029.4L229.6 2030L230.9 2029L232.1 2028.5L233.3 2028.3L234.6 2026.2L235.8 2025.4L237.1 2026L238.3 2023.3L239.6 2023.3L240.8 2023.3L242 2022.9L243.3 2022.2L244.5 2021.1L245.8 2020L247 2020.7L248.3 2020.8L249.5 2019.1L250.8 2019L252 2016.1L253.2 2016.9L254.5 2015.7L255.7 2015L257 2016.4L258.2 2016L259.5 2014.4L260.7 2013.9L262 2013.2L263.2 2014.5L264.4 2015.4L265.7 2014.9L266.9 2013.8L268.2 2012.5L269.4 2011.8L270.7 2010.9L271.9 2010.9L273.1 2011.3L274.4 2010.1L275.6 2008.9L276.9 2009.7L278.1 2008L279.4 2007.5L280.6 2007.8L281.9 2006.3L283.1 2006.8L284.3 2005.5L285.6 2006.8L286.8 2007L288.1 2006L289.3 2005.8L290.6 2005.7L291.8 2003.5L293 2001.2L294.3 2001.9L295.5 2002.1L296.8 2002.5L298 2001.8L299.3 2001.9L300.5 2001.6L301.8 2002L303 1999.9L304.2 2000.1L305.5 1999L306.7 1999.4L307.9 1998.8L309.2 1997L310.4 1998.7L311.6 1998.6L312.9 1997.2L314.1 1996.3L315.4 1997.1L316.6 1995.8L317.8 1995.7L319.1 1994.9L320.3 1994.5L321.5 1993.8L322.8 1991.4L324 1993.5L325.2 1993.2L326.5 1992.4L327.7 1991.4L328.9 1991.3L330.2 1990.4L331.4 1989.1L332.7 1989.6L333.9 1988.6L335.1 1988.2L336.4 1987.9L337.6 1988.7L338.8 1988.6L340.1 1985.8L341.3 1986.3L342.6 1985.5L343.9 1984.5L345.1 1985.1L346.4 1984.1L347.7 1982.2L349 1983.4L350.2 1983.2L351.5 1981.6L352.8 1980.1L354.1 1979.9L355.3 1979L356.6 1979.4L357.9 1979.9L359.1 1977.4L360.4 1976.3L361.7 1976L363 1975.7L364.2 1975.7L365.5 1974.5L366.8 1973.7L368 1973.3L369.3 1973.1L370.6 1973.9L371.8 1972.3L373.1 1973.4L374.3 1973.5L375.6 1973.5L376.8 1974.6L378.1 1973.7L379.3 1972.7L379.3 1988.7L378.1 1990.1L376.8 1989.9L375.6 1990L374.3 1990.8L373.1 1990L371.8 1990.4L370.6 1990L369.3 1989.3L368 1991.1L366.8 1991.1L365.5 1990.7L364.2 1991.4L363 1992.3L361.7 1992.8L360.4 1992.9L359.1 1993L357.9 1992.6L356.6 1993.8L355.3 1994.2L354.1 1994.1L352.8 1995.3L351.5 1996.5L350.2 1996.4L349 1997.3L347.7 1998.3L346.4 1998.6L345.1 1999.6L343.9 2000.5L342.6 2000.5L341.3 2000.8L340.1 2000.5L338.8 2003.3L337.6 2002.9L336.4 2001.9L335.1 2003.5L333.9 2003.5L332.7 2004.4L331.4 2005.8L330.2 2005.2L328.9 2005.1L327.7 2006.2L326.5 2005.3L325.2 2006.7L324 2009.3L322.8 2009.7L321.5 2010.1L320.3 2010L319.1 2011.1L317.8 2011.8L316.6 2012L315.4 2010.6L314.1 2010.8L312.9 2011.2L311.6 2011.3L310.4 2013.9L309.2 2013.8L307.9 2013.4L306.7 2014.8L305.5 2015.6L304.2 2016.1L303 2015.3L301.8 2015.8L300.5 2016.2L299.3 2016.2L298 2015.7L296.8 2016L295.5 2017.8L294.3 2016.4L293 2016.8L291.8 2017.5L290.6 2018.6L289.3 2019.1L288.1 2020.1L286.8 2020.3L285.6 2020.3L284.3 2020.8L283.1 2021.9L281.9 2022.7L280.6 2023.6L279.4 2025.1L278.1 2023.9L276.9 2026.5L275.6 2026.4L274.4 2028L273.1 2028.1L271.9 2028.1L270.7 2028.2L269.4 2028.1L268.2 2028.4L266.9 2029.7L265.7 2030.4L264.4 2031.4L263.2 2031.6L262 2031.7L260.7 2031L259.5 2031.5L258.2 2031.8L257 2032.8L255.7 2033.5L254.5 2032.3L253.2 2032.4L252 2035L250.8 2033.6L249.5 2034.6L248.3 2035.5L247 2036.5L245.8 2036.5L244.5 2038.6L243.3 2039.2L242 2040.4L240.8 2041.1L239.6 2041.4L238.3 2040.9L237.1 2041.2L235.8 2039.6L234.6 2042.1L233.3 2043.1L232.1 2045.3L230.9 2044.9L229.6 2045.2L228.4 2043.9L227.1 2047.1L225.9 2046.8L224.6 2046.3L223.4 2048.4L222.1 2047.6L220.9 2050.3L219.7 2049.8L218.4 2050.3L217.2 2051.4L215.9 2053.5L214.7 2053.8L213.4 2056.1L212.2 2057.4L211 2056.7L209.7 2057.6L208.5 2058.1L207.2 2058.2L206 2060.2L204.7 2059.4L203.5 2059.3L202.2 2059.6L201 2061L199.8 2060.9L198.5 2061.3L197.3 2062.2L196.1 2063L194.8 2063.1L193.6 2064.1L192.3 2063.2L191.1 2063.8L189.9 2063.2L188.6 2063.6L187.4 2064.4L186.2 2064.4L184.9 2064.4L183.7 2066.7L182.4 2066.9L181.2 2067.4L180 2069.9L178.7 2071.3L177.5 2070.9L176.3 2072.2L175 2071.8L173.8 2072.7L172.5 2073.9L171.3 2074.5L170.1 2075.8L168.8 2077.8L167.6 2075.9L166.4 2076.2L165.1 2076.1L163.9 2077L162.6 2075.9L161.4 2077.7L160.2 2077.1L158.9 2077.5L157.7 2077.4L156.6 2078.9L155.4 2079.2L154.3 2079.8L153.1 2079.6L152 2079.7ZM380.3 1999.1L381.9 2002.5L383.4 2001.9L384.6 2003.5L385.9 2000.9L387.1 2005.9L388.3 2002.1L389.5 2003.7L390.8 2005.5L392 2006.2L393.3 2005.5L394.6 2005L395.9 2005.1L397.2 2006.1L398.6 2004.7L399.9 2003.6L401.2 2003.2L402.5 2001.1L403.8 2002.2L405.1 2002.8L406.4 2001.7L407.6 2001.6L408.9 2001.1L410.2 2000.3L411.4 2002.3L412.7 2001.8L414 1999.2L415.3 1999.3L416.6 1998.4L417.8 1998.7L419.1 1997.7L420.4 1996.8L421.7 1994.9L422.9 1994.6L424.2 1993.7L425.5 1993.6L426.8 1993.5L428 1991.8L429.3 1990.8L430.6 1991.1L431.9 1988L433.1 1988.4L434.4 1988.4L435.7 1986.8L436.9 1984.5L438.2 1984.5L439.5 1983.5L440.8 1985.7L442.1 1985.9L443.3 1985.5L444.6 1984.2L445.9 1983.6L447.2 1984.3L448.4 1981.9L449.7 1982.1L451 1981.1L452.2 1978.7L453.5 1978.2L454.8 1977.8L456.1 1977.5L457.3 1978.9L458.6 1977.6L459.9 1977.9L461.1 1978.4L462.4 1975.9L463.7 1976.3L464.9 1977.4L466.2 1978.4L467.5 1977L468.7 1976.8L470 1976.4L471.3 1974.8L472.6 1975.9L473.9 1975.9L475.2 1975.3L476.5 1974.1L477.8 1973.9L479 1971.8L480.1 1972.6L481.3 1971.3L482.5 1971.9L482.5 1987L481.3 1988.7L480.1 1988.8L479 1990.8L477.8 1989.3L476.5 1991.5L475.2 1990.4L473.9 1993.5L472.6 1992.8L471.3 1993L470 1991.6L468.7 1992.6L467.5 1992.4L466.2 1993.3L464.9 1992.2L463.7 1992.8L462.4 1992.3L461.1 1992.2L459.9 1993L458.6 1993.4L457.3 1994.4L456.1 1994L454.8 1995.4L453.5 1997.8L452.2 1998.9L451 2000.1L449.7 2000.4L448.4 1999.9L447.2 1999.4L445.9 1999.8L444.6 2001L443.3 2000.1L442.1 2002.5L440.8 2002.4L439.5 2004.2L438.2 2002.9L436.9 2003.8L435.7 2004.3L434.4 2004.8L433.1 2004.7L431.9 2005.9L430.6 2008.8L429.3 2008.1L428 2008.2L426.8 2010.4L425.5 2010L424.2 2010.7L422.9 2011.9L421.7 2012L420.4 2013.1L419.1 2013.8L417.8 2014.8L416.6 2015.7L415.3 2015.5L414 2015.4L412.7 2016.3L411.4 2017.9L410.2 2017.9L408.9 2018.1L407.6 2018L406.4 2019.1L405.1 2018.8L403.8 2020.4L402.5 2020.6L401.2 2018.9L399.9 2017.9L398.6 2018.8L397.2 2022L395.9 2020.9L394.6 2022.9L393.3 2022.8L392 2023.8L390.8 2022.6L389.5 2021.4L388.3 2021.2L387.1 2025L385.9 2024.7L384.6 2026.7L383.4 2026.3L381.9 2024.6L380.3 2022.8ZM487.8 2057L488.9 2067.4L489.9 2059.4L491 2064.2L492.2 2064.2L493.4 2063L494.5 2058.9L495.7 2062.7L496.9 2062.6L498.2 2064L499.4 2065L500.7 2066.6L501.9 2064.4L503.2 2066.1L504.5 2066.1L505.7 2066.8L507 2067.2L508.3 2067.3L509.6 2066.1L510.9 2067.3L512.2 2066.7L513.4 2065.9L514.7 2065.4L516 2067.1L517.3 2067L518.6 2068.1L519.9 2067.6L521.1 2067.4L522.4 2065.5L523.6 2066.2L524.9 2065.8L526.2 2065.5L527.4 2065.8L528.7 2064.3L530 2063.1L531.2 2061.6L532.5 2062.9L533.7 2062.6L535 2063.7L536.2 2062.4L537.5 2062.7L538.7 2063.4L540 2062.7L541.2 2062.9L542.5 2062.7L543.7 2061.5L544.9 2060.7L546.2 2059.3L547.4 2058.1L548.7 2058.2L549.9 2056.8L551.2 2055.9L552.4 2056.4L553.6 2057.1L554.9 2056.9L556.1 2056.1L557.4 2055.4L558.6 2054.1L559.9 2053.9L561.1 2055.6L562.4 2054.6L563.6 2054.6L564.8 2055.1L566.1 2053.6L567.3 2052.7L568.6 2052.8L569.8 2052.4L571.1 2049.6L572.3 2050.2L573.5 2049.1L574.8 2050L576 2049.7L577.3 2050L578.5 2049.5L579.8 2047.9L581 2047.7L582.2 2045.2L583.5 2047.5L584.7 2047.3L586 2046.9L587.2 2046.8L588.5 2045.6L589.7 2044.3L591 2046L592.2 2045.7L593.4 2044.3L594.7 2043.4L595.9 2045.2L597.2 2046.4L598.4 2047L599.7 2046.7L600.9 2045.8L602.1 2044.7L603.4 2044L604.6 2041.4L605.9 2042L607.1 2042.8L608.4 2040.7L609.6 2042.2L610.9 2041.2L612.1 2038.8L613.3 2038.4L614.6 2038.3L615.8 2038.2L617.1 2037.9L618.3 2037.6L619.6 2036L620.8 2037.1L622 2035.2L623.3 2035L624.5 2034.4L625.8 2033.6L627 2033.8L628.3 2033.8L629.5 2034.2L630.8 2033.3L632 2033.3L633.2 2031.9L634.5 2033L635.7 2032.3L637 2031.5L638.2 2031L639.5 2029.2L640.7 2028.9L642 2029.3L643.2 2027.4L644.4 2028.3L645.7 2026.7L646.9 2027.2L648.2 2026.8L649.4 2026.1L650.7 2026L651.9 2025.7L653.1 2024.1L654.4 2023.3L655.6 2024.7L656.9 2024.7L658.1 2023.8L659.4 2025.3L660.6 2022.9L661.9 2022.1L663.1 2023.5L664.3 2022.1L665.6 2022.4L666.8 2021.6L668.1 2021.9L669.3 2020L670.6 2020.9L671.8 2019.4L673 2019.6L674.3 2020.5L675.5 2019.7L676.8 2019L678 2018.1L679.3 2018.9L680.5 2019.4L681.8 2020.1L683 2017.1L684.2 2018L685.5 2017.9L686.7 2017.8L687.9 2017.6L689.2 2017.8L690.4 2018.7L691.6 2016.7L692.9 2016L694.1 2016.3L695.4 2016.2L696.6 2014.8L697.8 2015.3L699.1 2014.2L700.3 2014L701.5 2013.7L702.8 2013.5L704 2013.1L705.2 2014.4L706.5 2012.9L707.7 2014.3L708.9 2012.7L710.2 2013.8L711.4 2013.3L712.7 2012.8L713.9 2013.6L715.1 2011.8L716.4 2013.1L717.6 2011.9L718.8 2011.2L720.1 2013.8L721.3 2011.8L722.5 2012.7L723.7 2012.5L725 2011.6L726.2 2009.7L727.4 2009.5L728.6 2007.2L728.6 2024.2L727.4 2025.4L726.2 2024.8L725 2025L723.7 2027.8L722.5 2028.5L721.3 2027.3L720.1 2027.5L718.8 2028.3L717.6 2027.3L716.4 2026.7L715.1 2027.6L713.9 2028.4L712.7 2027.3L711.4 2028.4L710.2 2029.1L708.9 2028.3L707.7 2029.3L706.5 2028.9L705.2 2029.8L704 2029.9L702.8 2029.3L701.5 2029.9L700.3 2029.2L699.1 2030.7L697.8 2029.2L696.6 2029.4L695.4 2030.4L694.1 2030.7L692.9 2030.2L691.6 2031.6L690.4 2032.4L689.2 2032.5L687.9 2032.1L686.7 2033.4L685.5 2033.8L684.2 2034.2L683 2034.7L681.8 2033.9L680.5 2035.1L679.3 2035.2L678 2038L676.8 2036.5L675.5 2037.2L674.3 2036.8L673 2036.6L671.8 2037.3L670.6 2038.8L669.3 2036.7L668.1 2038.1L666.8 2038.3L665.6 2038.8L664.3 2038.6L663.1 2038.6L661.9 2038.7L660.6 2040.4L659.4 2039.8L658.1 2041.5L656.9 2042.4L655.6 2042L654.4 2040L653.1 2039.6L651.9 2039.6L650.7 2040.8L649.4 2043.1L648.2 2043.1L646.9 2043.2L645.7 2044L644.4 2045.2L643.2 2045.6L642 2044.1L640.7 2045.5L639.5 2045.7L638.2 2046L637 2046.3L635.7 2044.9L634.5 2048.3L633.2 2047.8L632 2047.1L630.8 2048.6L629.5 2048L628.3 2048.4L627 2049.8L625.8 2050.5L624.5 2051.6L623.3 2054.2L622 2054.3L620.8 2055.6L619.6 2055.8L618.3 2055.8L617.1 2056.1L615.8 2054.2L614.6 2054.6L613.3 2055.6L612.1 2055.4L610.9 2057.1L609.6 2056.3L608.4 2055.6L607.1 2057L605.9 2058.8L604.6 2059.5L603.4 2058.2L602.1 2057.7L600.9 2058.4L599.7 2057.8L598.4 2058.9L597.2 2060.3L595.9 2058.9L594.7 2059.4L593.4 2059.1L592.2 2058.8L591 2059.1L589.7 2057.9L588.5 2059.9L587.2 2060.8L586 2061.1L584.7 2060.3L583.5 2060L582.2 2061L581 2061.5L579.8 2063L578.5 2066.2L577.3 2066.6L576 2067.1L574.8 2066.6L573.5 2067.9L572.3 2068.4L571.1 2068.4L569.8 2070.1L568.6 2069.1L567.3 2069.2L566.1 2068.5L564.8 2070.3L563.6 2070.7L562.4 2071L561.1 2071.7L559.9 2070.4L558.6 2071.5L557.4 2070.3L556.1 2070.7L554.9 2073.1L553.6 2072.1L552.4 2071.3L551.2 2072.2L549.9 2071.8L548.7 2074.8L547.4 2075.8L546.2 2075.1L544.9 2077.4L543.7 2077L542.5 2077.6L541.2 2077.9L540 2078.8L538.7 2079.1L537.5 2078.5L536.2 2079.9L535 2078.3L533.7 2079L532.5 2078.7L531.2 2081.8L530 2079.3L528.7 2080.8L527.4 2080.8L526.2 2081.9L524.9 2081.5L523.6 2081.9L522.4 2081.7L521.1 2082.1L519.9 2083.8L518.6 2083.8L517.3 2083.8L516 2083.1L514.7 2082.3L513.4 2084.1L512.2 2083.1L510.9 2084.4L509.6 2084.3L508.3 2083.7L507 2082.9L505.7 2083.5L504.5 2082.5L503.2 2083.5L501.9 2080.8L500.7 2081L499.4 2080.3L498.2 2084.6L496.9 2083.2L495.7 2086.7L494.5 2085.7L493.4 2088L492.2 2088.9L491 2091.5L489.9 2084.1L488.9 2088L487.8 2086.8ZM742.6 2106.6L743.7 2110.4L744.9 2112.2L746 2115.6L747.2 2115.8L748.4 2117.4L749.5 2118.7L750.7 2120.3L751.9 2121.6L753.1 2124.5L754.3 2123L755.6 2124.9L756.8 2125.6L758 2125.8L759.3 2129.9L760.6 2131.7L762 2131.4L763.3 2132.2L764.6 2134.7L766 2135.6L767.4 2137.4L768.8 2138.6L770.2 2138.3L770.2 2153L768.8 2152.8L767.4 2152L766 2150.7L764.6 2147.5L763.3 2147.7L762 2144.7L760.6 2145.1L759.3 2144.1L758 2141.4L756.8 2139.9L755.6 2139.4L754.3 2139.3L753.1 2137L751.9 2137.1L750.7 2134.2L749.5 2132.8L748.4 2130.6L747.2 2128.4L746 2126.5L744.9 2121.6L743.7 2115.5L742.6 2109.9ZM771.6 2167.3L772.7 2171.4L773.7 2172.6L774.8 2173.2L776.2 2169L777.6 2167.7L779 2164.2L780.2 2167.9L781.4 2167.2L782.6 2165.2L783.8 2168L785.1 2168.7L786.3 2165.6L787.6 2166.1L788.9 2162.5L790.1 2163.7L791.4 2165.2L792.7 2165.7L794 2164.7L795.2 2164.5L796.5 2163.5L797.7 2162.9L799 2162.1L800.2 2162L801.4 2161.5L802.6 2160.2L803.9 2160.1L805.1 2159L806.3 2159L807.5 2160.6L808.8 2160.4L810 2160.2L811.2 2158.9L812.4 2157L813.6 2156.9L814.8 2156.2L816 2155.5L817.2 2154.4L818.4 2155.5L819.6 2154.6L820.8 2156.2L822 2154.8L823.3 2155.6L824.6 2154.7L825.8 2155.2L827.1 2154.6L828.4 2154.1L829.7 2154.6L831 2152.4L832.2 2152.2L833.5 2152.6L834.8 2152L836.1 2151.4L837.4 2150.4L838.6 2151.3L839.9 2149.8L841.2 2149.3L842.5 2147.8L843.8 2149.1L845 2148.7L846.3 2147.9L847.6 2147.6L848.9 2147.7L850.1 2147.3L851.4 2144.3L852.7 2146.5L854 2144.6L855.2 2143.4L856.5 2142.2L857.8 2140.3L859.1 2140.2L860.4 2140L861.6 2137.1L862.9 2136.7L864.2 2136.9L865.5 2134.2L866.7 2135.8L868 2135.6L869.3 2134.4L870.6 2133.7L871.8 2132.5L873.1 2130.6L874.4 2130.5L875.6 2129.6L876.9 2128.9L878.2 2129.3L879.5 2127.2L880.8 2125.6L882 2125.8L883.3 2125.6L884.6 2124.3L885.9 2125.4L887.1 2122.6L888.4 2121.9L889.7 2122.4L891 2121.9L892.2 2121.9L893.5 2121.9L894.8 2120.9L896.1 2119.3L897.3 2119.7L898.6 2118.5L899.9 2118.1L901.1 2117.5L902.4 2116.9L903.6 2116.1L904.9 2113.3L906.2 2112.8L907.4 2112.8L908.7 2113.1L910 2112.9L911.2 2112L912.5 2111.8L913.7 2112.8L915 2112.1L916.2 2110.2L917.5 2110.1L918.7 2107.3L920 2107.6L921.2 2106L922.5 2105.1L923.7 2104.4L924.9 2103.6L926.2 2105.6L927.4 2105.3L928.7 2104.1L929.9 2104.5L931.2 2102.9L932.4 2101.1L933.6 2100.2L934.9 2100.2L936.1 2098.9L937.4 2097.7L938.6 2098.3L939.9 2096.5L941.1 2096.3L942.4 2096.1L943.6 2095L944.8 2094.5L946.1 2093.5L947.3 2094.8L948.6 2094.4L949.8 2094.8L951.1 2093.7L952.3 2092.6L953.5 2092L954.8 2093.5L956 2091.3L957.3 2091.2L958.5 2090L959.8 2089.3L961 2088L962.2 2087.4L963.5 2086L964.7 2085.1L966 2084.6L967.2 2085.2L968.5 2084.1L969.7 2084.8L971 2084.6L972.2 2083.8L973.4 2083L974.7 2082.8L975.9 2083.7L977.2 2082.5L978.4 2083.7L979.7 2082.4L980.9 2081.4L982.1 2078.9L983.4 2078L984.6 2076.5L985.9 2077.5L987.1 2076.7L988.4 2077.8L989.6 2076.7L990.9 2076.7L992.1 2076.1L993.3 2074.3L994.6 2073.9L995.8 2074.1L997.1 2072.3L998.3 2071.2L999.6 2070.2L1000.8 2070.4L1002 2070.3L1003.3 2068.8L1004.5 2067.7L1005.8 2069.8L1007 2068.7L1008.3 2069.5L1009.5 2068.2L1010.8 2068.2L1012 2069.3L1013.2 2068.7L1014.5 2067.1L1015.7 2066.9L1017 2066.5L1018.2 2064.8L1019.5 2064.5L1020.7 2062.1L1022 2061.8L1023.2 2060.2L1024.4 2059.8L1025.7 2061.1L1026.9 2060.2L1028.2 2058.5L1029.4 2058.2L1030.7 2058.6L1031.9 2056.8L1033.1 2055.6L1034.4 2053.7L1035.6 2054.3L1036.9 2054.2L1038.1 2052.6L1039.4 2051.8L1040.6 2051.5L1041.9 2050.2L1043.1 2049.2L1044.3 2049.2L1045.6 2048.8L1046.8 2049.1L1048.1 2047.6L1049.3 2047.1L1050.6 2045.5L1051.8 2046.9L1053 2045.9L1054.3 2045L1055.5 2044.2L1056.8 2043.6L1058 2042.8L1059.3 2042L1060.5 2042.5L1061.8 2040.7L1063 2039.8L1064.2 2040.6L1065.5 2040.5L1066.7 2038.4L1067.9 2038.9L1069.2 2037.9L1070.4 2038L1071.6 2038.2L1072.9 2036L1074.1 2035.9L1075.4 2034.7L1076.6 2035.1L1077.8 2033.6L1079.1 2032.1L1080.3 2031.7L1081.5 2031L1082.8 2031.8L1084 2029.6L1085.2 2029.6L1086.5 2029.3L1087.7 2029.4L1088.9 2028.6L1090.2 2028.8L1091.4 2029.2L1092.6 2028.1L1093.9 2027.2L1095.1 2026.8L1096.4 2025.9L1097.6 2024.8L1098.8 2023.8L1100.1 2025.4L1101.3 2025L1102.5 2023.8L1103.8 2024.1L1105 2022.1L1106.2 2020.9L1107.5 2020.9L1108.7 2021L1110 2022.2L1111.2 2022.1L1112.5 2019.9L1113.7 2019.2L1114.9 2016.5L1116.2 2015.8L1117.4 2016.3L1118.7 2014.1L1119.9 2015L1121.2 2013.5L1122.4 2014.6L1123.6 2014.2L1124.9 2013.1L1126.1 2012.8L1127.4 2012.7L1128.6 2011.7L1129.9 2011.1L1131.1 2010.6L1132.4 2010.3L1133.6 2008.9L1134.8 2009.7L1136.1 2009.5L1137.3 2010.5L1138.6 2009.5L1139.8 2009.9L1141.1 2007.5L1142.3 2007.7L1143.5 2006.7L1144.8 2004.9L1146 2003.7L1147.3 2003.5L1148.5 2003.1L1149.8 2003.1L1151 2001.8L1152.2 2001.4L1153.5 1999.6L1154.7 1999L1156 1997.4L1157.2 1997.4L1158.5 1996.4L1159.7 1996.7L1161 1996.6L1162.2 1996.3L1163.4 1995.1L1164.7 1995.5L1165.9 1994.3L1167.2 1994L1168.4 1992L1169.7 1994L1170.9 1993.1L1172.1 1992.8L1173.4 1991.5L1174.6 1990.6L1175.9 1990.3L1177.1 1988.8L1178.4 1987.7L1179.6 1987.7L1180.9 1987.7L1182.1 1985.8L1183.3 1986.7L1184.6 1987.6L1185.8 1986.5L1187.1 1985L1188.3 1984.9L1189.6 1986.2L1190.8 1985.9L1192 1985.8L1193.3 1985.1L1194.5 1984.3L1195.8 1983.6L1197 1984L1198.3 1983.4L1199.5 1981L1200.8 1980.2L1202 1979.9L1203.2 1978.9L1204.5 1976.7L1205.7 1975.6L1206.9 1975.4L1208.2 1976L1209.4 1974.9L1210.6 1973.6L1211.9 1974L1213.1 1973.6L1214.4 1973.2L1215.6 1974.1L1216.8 1972.2L1218.1 1970.9L1219.3 1971.2L1220.5 1969.6L1221.8 1971.6L1223 1970.9L1224.2 1971.6L1225.5 1971.7L1226.7 1971.3L1227.9 1972.5L1229.2 1971L1230.4 1971L1231.7 1969.5L1232.9 1971.1L1234.1 1968.9L1235.4 1968.1L1236.6 1966.5L1237.8 1966.6L1239.1 1966.5L1240.3 1966.8L1241.6 1965.5L1242.8 1965L1244.1 1965.2L1245.4 1965L1246.7 1964.9L1247.9 1963.3L1249.2 1962.4L1250.5 1961.9L1251.8 1961.4L1253 1963.6L1254.3 1962.4L1255.6 1961.8L1256.9 1959.1L1258.1 1958.8L1259.4 1959.6L1260.7 1958.6L1262 1958.2L1263.2 1957.3L1264.5 1957.2L1265.8 1957.2L1267 1958.1L1268.3 1958.6L1269.6 1958.3L1269.6 1972.8L1268.3 1973.9L1267 1973.6L1265.8 1975.1L1264.5 1973.8L1263.2 1975L1262 1975.7L1260.7 1975.8L1259.4 1975.1L1258.1 1975.7L1256.9 1977L1255.6 1977L1254.3 1977.3L1253 1980.5L1251.8 1979L1250.5 1979.5L1249.2 1978.2L1247.9 1979.8L1246.7 1979.3L1245.4 1980.3L1244.1 1980.4L1242.8 1981.4L1241.6 1981.7L1240.3 1981.5L1239.1 1981.2L1237.8 1982.9L1236.6 1984.2L1235.4 1985.6L1234.1 1984.6L1232.9 1985.5L1231.7 1984.5L1230.4 1985.8L1229.2 1985.5L1227.9 1986.7L1226.7 1985.6L1225.5 1985.4L1224.2 1986.6L1223 1986.4L1221.8 1988.4L1220.5 1988.4L1219.3 1986.6L1218.1 1988.4L1216.8 1989.9L1215.6 1990.1L1214.4 1990.7L1213.1 1990.9L1211.9 1989.9L1210.6 1992L1209.4 1991.5L1208.2 1992.6L1206.9 1994.9L1205.7 1995.7L1204.5 1994.9L1203.2 1995.9L1202 1995.7L1200.8 1994.9L1199.5 1995.3L1198.3 1994.7L1197 1994.4L1195.8 1997.6L1194.5 1998.4L1193.3 1998.1L1192 1998.6L1190.8 2000.9L1189.6 2001.3L1188.3 2001.1L1187.1 2001.5L1185.8 2002.1L1184.6 2003.3L1183.3 2004L1182.1 2004.1L1180.9 2003.7L1179.6 2005.5L1178.4 2005.5L1177.1 2004.5L1175.9 2006.1L1174.6 2007.3L1173.4 2006.4L1172.1 2008L1170.9 2009.4L1169.7 2010.3L1168.4 2009.5L1167.2 2008.6L1165.9 2009.8L1164.7 2011L1163.4 2012.3L1162.2 2013.6L1161 2014.2L1159.7 2014.7L1158.5 2015.8L1157.2 2016.1L1156 2016.7L1154.7 2016.5L1153.5 2018.2L1152.2 2016.8L1151 2016.8L1149.8 2018.8L1148.5 2019.3L1147.3 2020.9L1146 2021.3L1144.8 2022.3L1143.5 2022.5L1142.3 2023.4L1141.1 2022.5L1139.8 2023.1L1138.6 2023.3L1137.3 2024.4L1136.1 2025.6L1134.8 2025L1133.6 2027.1L1132.4 2025.8L1131.1 2025.5L1129.9 2026.5L1128.6 2028.3L1127.4 2027.9L1126.1 2027L1124.9 2029.8L1123.6 2029.3L1122.4 2029.8L1121.2 2029.2L1119.9 2030.9L1118.7 2032L1117.4 2031.1L1116.2 2030.4L1114.9 2033.1L1113.7 2033.7L1112.5 2034.2L1111.2 2033.2L1110 2034.3L1108.7 2034.9L1107.5 2035.2L1106.2 2035.5L1105 2037.6L1103.8 2038.6L1102.5 2040.1L1101.3 2040.5L1100.1 2040.8L1098.8 2041.4L1097.6 2041.2L1096.4 2044L1095.1 2044.5L1093.9 2044L1092.6 2045.3L1091.4 2046L1090.2 2046.2L1088.9 2045.7L1087.7 2046L1086.5 2048L1085.2 2047.4L1084 2049.3L1082.8 2048.6L1081.5 2048.6L1080.3 2051.8L1079.1 2051.6L1077.8 2052.2L1076.6 2051.4L1075.4 2051.7L1074.1 2051.2L1072.9 2050.4L1071.6 2053.7L1070.4 2052.7L1069.2 2053.9L1067.9 2054L1066.7 2054.7L1065.5 2055.3L1064.2 2056L1063 2057.1L1061.8 2056.1L1060.5 2056.7L1059.3 2056.8L1058 2058.4L1056.8 2059.1L1055.5 2059.2L1054.3 2058.9L1053 2061.4L1051.8 2062.5L1050.6 2063.8L1049.3 2064.3L1048.1 2065.2L1046.8 2067.6L1045.6 2066.6L1044.3 2067.7L1043.1 2067.7L1041.9 2067.9L1040.6 2066.8L1039.4 2065.7L1038.1 2067.4L1036.9 2068.7L1035.6 2069.5L1034.4 2069.7L1033.1 2068.3L1031.9 2071L1030.7 2070.9L1029.4 2071.3L1028.2 2071.8L1026.9 2071.4L1025.7 2074.1L1024.4 2074.8L1023.2 2072.9L1022 2074.9L1020.7 2075.7L1019.5 2075.3L1018.2 2077L1017 2079L1015.7 2079.9L1014.5 2080.5L1013.2 2080.3L1012 2080.9L1010.8 2082.7L1009.5 2083.1L1008.3 2084L1007 2084.5L1005.8 2084.3L1004.5 2083.5L1003.3 2083.9L1002 2085.6L1000.8 2086.3L999.6 2087L998.3 2086.8L997.1 2086.7L995.8 2088.6L994.6 2089.9L993.3 2091.3L992.1 2091.2L990.9 2091.9L989.6 2093.7L988.4 2094L987.1 2093.9L985.9 2093.6L984.6 2094.2L983.4 2096.1L982.1 2097.3L980.9 2097.8L979.7 2098.1L978.4 2099.5L977.2 2099.1L975.9 2097.9L974.7 2097.9L973.4 2098.8L972.2 2099.2L971 2099.8L969.7 2101L968.5 2101.5L967.2 2102.7L966 2101.9L964.7 2101L963.5 2101.7L962.2 2103.2L961 2102.5L959.8 2103.5L958.5 2103.8L957.3 2104.4L956 2103.6L954.8 2106.2L953.5 2106.4L952.3 2106.4L951.1 2107L949.8 2106.9L948.6 2109.1L947.3 2110.2L946.1 2110.9L944.8 2110.6L943.6 2113.5L942.4 2111.5L941.1 2112.5L939.9 2113.9L938.6 2113.7L937.4 2113.8L936.1 2114.8L934.9 2116.8L933.6 2116L932.4 2117.7L931.2 2119.2L929.9 2119.5L928.7 2119.9L927.4 2121L926.2 2121.7L924.9 2120.1L923.7 2122.2L922.5 2122.8L921.2 2122L920 2123.8L918.7 2124.1L917.5 2124.3L916.2 2125.3L915 2126.9L913.7 2127.2L912.5 2127.3L911.2 2124.8L910 2126.4L908.7 2126.6L907.4 2128.7L906.2 2127.5L904.9 2128.2L903.6 2127.5L902.4 2129L901.1 2129.4L899.9 2131.5L898.6 2132.8L897.3 2131.1L896.1 2132L894.8 2133.4L893.5 2133.6L892.2 2134.2L891 2134.6L889.7 2135.4L888.4 2136.5L887.1 2137.6L885.9 2137.3L884.6 2138L883.3 2138.1L882 2139.2L880.8 2139.9L879.5 2139.3L878.2 2140.2L876.9 2141.5L875.6 2142.4L874.4 2143.4L873.1 2143.8L871.8 2146.6L870.6 2147.1L869.3 2149.2L868 2149.8L866.7 2149.3L865.5 2150.4L864.2 2152L862.9 2152.8L861.6 2153.6L860.4 2156.5L859.1 2156.1L857.8 2157.1L856.5 2159.2L855.2 2159.7L854 2159.8L852.7 2159.7L851.4 2161.2L850.1 2161.3L848.9 2161.9L847.6 2161.4L846.3 2163.2L845 2162.9L843.8 2164.1L842.5 2164.1L841.2 2165.9L839.9 2165.5L838.6 2166.3L837.4 2166.1L836.1 2167.3L834.8 2168.2L833.5 2167.9L832.2 2167.5L831 2168.1L829.7 2170.3L828.4 2170.3L827.1 2168.8L825.8 2170.7L824.6 2171L823.3 2171.7L822 2171.6L820.8 2173.5L819.6 2173.2L818.4 2173.4L817.2 2172.8L816 2172.3L814.8 2173.8L813.6 2174.3L812.4 2173.2L811.2 2175.1L810 2176.7L808.8 2175.8L807.5 2177.4L806.3 2176.8L805.1 2177L803.9 2177.6L802.6 2178.4L801.4 2178.8L800.2 2180.2L799 2182.3L797.7 2181.7L796.5 2182L795.2 2183.3L794 2184.5L792.7 2184.3L791.4 2182.9L790.1 2186.7L788.9 2183.9L787.6 2185.1L786.3 2190.4L785.1 2188.6L783.8 2185.5L782.6 2192L781.4 2193.7L780.2 2195.7L779 2191.8L777.6 2193L776.2 2192.2L774.8 2193.8L773.7 2196.3L772.7 2193.8L771.6 2195.8ZM1270.8 1995.9L1272.2 1994.9L1273.5 1995.7L1274.9 2002.7L1276.2 2000.4L1277.6 2000.2L1279 1997.6L1280.2 1998.8L1281.4 1999.1L1282.6 1999.3L1283.8 1999.8L1285 2000.1L1286.2 1999.7L1287.3 1996.9L1288.5 1995.6L1289.7 1997.2L1290.8 1997.3L1292 1998.3L1293.3 1996.6L1294.7 1994.9L1296 1995.3L1297.3 1995.4L1298.7 1995.8L1300 1994.5L1301.2 1995.1L1302.5 1995.3L1303.7 1993.9L1304.9 1993.5L1306.2 1991.6L1307.4 1992L1308.6 1991.1L1309.8 1991.3L1311.1 1989.9L1312.3 1991.3L1313.5 1991.3L1314.8 1990.3L1316 1990.4L1317.2 1990.4L1318.5 1989.3L1319.7 1990L1320.9 1988.6L1322.1 1987.9L1323.4 1987.5L1324.6 1987.2L1325.8 1986L1327.1 1985.2L1328.3 1985.8L1329.5 1984.2L1330.8 1982.7L1332 1982.5L1333.2 1981.2L1334.4 1982.9L1335.7 1981.9L1336.9 1980L1338.1 1978.9L1339.3 1978.9L1340.6 1978.6L1341.8 1978.4L1343 1978.4L1344.2 1977.2L1345.5 1976.9L1346.7 1977.7L1347.9 1976.8L1349.2 1975.5L1350.4 1975.4L1351.6 1975L1352.8 1975.4L1354.1 1973.9L1355.3 1972.5L1356.5 1972.3L1357.7 1970.8L1359 1970.8L1360.2 1971.1L1361.6 1970.7L1363.1 1971.9L1364.5 1971.2L1365.9 1972L1367.3 1971.3L1367.3 1986.2L1365.9 1984.7L1364.5 1983.6L1363.1 1984.2L1361.6 1982.9L1360.2 1984.4L1359 1984.4L1357.7 1985.6L1356.5 1987.7L1355.3 1988.5L1354.1 1989L1352.8 1990.4L1351.6 1988.4L1350.4 1989.9L1349.2 1989.8L1347.9 1990.8L1346.7 1991.9L1345.5 1992.8L1344.2 1992.1L1343 1992.6L1341.8 1993.1L1340.6 1994.3L1339.3 1996.3L1338.1 1998.1L1336.9 1999.2L1335.7 1996.4L1334.4 1998.7L1333.2 1997.1L1332 1998.8L1330.8 1998.5L1329.5 1999.8L1328.3 2000.5L1327.1 1999.2L1325.8 2000.7L1324.6 2002.9L1323.4 2002.8L1322.1 2003.3L1320.9 2003.5L1319.7 2003.6L1318.5 2004L1317.2 2005.6L1316 2005.5L1314.8 2006L1313.5 2006.7L1312.3 2006.2L1311.1 2006.3L1309.8 2006.5L1308.6 2006L1307.4 2006.3L1306.2 2005.5L1304.9 2007.2L1303.7 2007L1302.5 2009.3L1301.2 2008.1L1300 2009.3L1298.7 2010.1L1297.3 2009.5L1296 2010.8L1294.7 2010.1L1293.3 2011.7L1292 2013.4L1290.8 2012.6L1289.7 2012L1288.5 2012.8L1287.3 2015.8L1286.2 2015.8L1285 2016.3L1283.8 2016.6L1282.6 2014.9L1281.4 2014.8L1280.2 2015.2L1279 2015L1277.6 2015.4L1276.2 2011.9L1274.9 2013.2L1273.5 2014.4L1272.2 2014.7L1270.8 2013.8ZM1369.6 2061.5L1370.7 2070.5L1371.8 2063.2L1372.9 2062.2L1374.1 2063.6L1375.3 2061.6L1376.5 2060.1L1377.6 2061.7L1378.8 2058.9L1380 2065.3L1381.2 2061L1382.4 2059.6L1383.6 2063.8L1384.8 2063.7L1386 2065.7L1387.2 2062.4L1388.4 2060.2L1389.6 2061.1L1390.8 2063.5L1392 2064.5L1393.3 2066.3L1394.6 2066L1395.8 2064L1397.1 2066L1398.4 2066.3L1399.7 2066.4L1401 2064.3L1402.2 2064.2L1403.5 2062.4L1404.8 2061.5L1406.1 2061.1L1407.4 2062.1L1408.6 2062.2L1409.9 2060.2L1411.2 2060.1L1412.5 2062.3L1413.8 2062.8L1415 2062.7L1416.3 2063.7L1417.6 2064.4L1418.9 2062.3L1420.1 2062.7L1421.4 2061.1L1422.7 2060.8L1424 2059.5L1425.2 2058.3L1426.5 2057.2L1427.8 2056.5L1429.1 2055.6L1430.3 2056.2L1431.6 2057L1432.9 2055.5L1434.2 2055.7L1435.4 2056L1436.7 2055.4L1438 2054L1439.3 2052L1440.5 2050.2L1441.8 2049.1L1443.1 2047.8L1444.4 2047L1445.6 2048L1446.9 2047L1448.2 2048.4L1449.5 2047.5L1450.8 2047.2L1452 2048.1L1453.3 2046.5L1454.6 2046.7L1455.8 2045.2L1457.1 2045.1L1458.4 2045.9L1459.7 2045.8L1460.9 2046.1L1462.2 2045.6L1463.5 2044.1L1464.8 2044.4L1466 2044.6L1467.3 2042.1L1468.6 2042.6L1469.9 2043.4L1471.1 2042.6L1472.4 2042.3L1473.6 2044L1474.9 2042.3L1476.2 2043.2L1477.4 2043.6L1478.7 2043.3L1479.9 2043.5L1481.2 2043.8L1482.4 2043.8L1483.7 2043.5L1485 2043.5L1486.2 2042.6L1487.5 2043.5L1488.7 2044.3L1490 2043.9L1491.2 2041L1492.5 2040.2L1493.7 2039.8L1495 2039.9L1496.2 2039.9L1497.5 2038.3L1498.7 2039.7L1499.9 2039.6L1501.2 2037.8L1502.4 2037.1L1503.7 2038L1504.9 2037L1506.2 2035.2L1507.4 2035.7L1508.6 2036.2L1509.9 2034.3L1511.1 2034.2L1512.4 2033.5L1513.6 2032L1514.8 2031.2L1516.1 2031.1L1517.3 2030.1L1518.6 2031.4L1519.8 2030.2L1521.1 2030.7L1522.3 2031.9L1523.5 2030.7L1524.8 2027.7L1526 2029.1L1527.3 2027.7L1528.5 2026L1529.8 2025.5L1531 2025.2L1532.2 2025.6L1533.5 2025.1L1534.7 2024.9L1536 2025.6L1537.2 2026.2L1538.5 2025.1L1539.7 2026L1541 2025.9L1542.2 2026.6L1543.4 2025.9L1544.7 2025.8L1545.9 2026.4L1547.2 2024.3L1548.4 2025.5L1549.7 2023.5L1550.9 2023.8L1552.1 2023.2L1553.4 2023.2L1554.6 2023.6L1555.9 2023.2L1557.1 2023.2L1558.4 2022.8L1559.6 2022L1560.9 2021.7L1562.1 2022.1L1563.3 2019.7L1564.6 2019.4L1565.8 2019.6L1567.1 2019.3L1568.3 2019.5L1569.6 2018L1570.8 2017.9L1572 2018.1L1573.3 2017.8L1574.5 2017.1L1575.8 2015.3L1577 2014.7L1578.3 2014.4L1579.5 2013.9L1580.8 2013.8L1582 2013.8L1583.3 2012.2L1584.7 2012.5L1586 2012.5L1587.3 2012.8L1588.6 2010.3L1589.9 2009.9L1591.3 2010.1L1592.6 2010.5L1592.6 2024.6L1591.3 2025.1L1589.9 2023.8L1588.6 2025.2L1587.3 2026.2L1586 2026.7L1584.7 2026.4L1583.3 2027.9L1582 2027.6L1580.8 2029.5L1579.5 2031L1578.3 2032.1L1577 2031.7L1575.8 2031.2L1574.5 2032.7L1573.3 2031.8L1572 2033.2L1570.8 2032.8L1569.6 2033L1568.3 2034.4L1567.1 2034.9L1565.8 2034.9L1564.6 2035.7L1563.3 2035.8L1562.1 2036.4L1560.9 2035.7L1559.6 2035.1L1558.4 2037.6L1557.1 2036.3L1555.9 2038.3L1554.6 2037.1L1553.4 2037.1L1552.1 2036.9L1550.9 2037.9L1549.7 2039.6L1548.4 2039.3L1547.2 2039.4L1545.9 2041.1L1544.7 2040.8L1543.4 2042.4L1542.2 2042.9L1541 2042.1L1539.7 2040.7L1538.5 2040.9L1537.2 2041.9L1536 2041.4L1534.7 2041.6L1533.5 2042.2L1532.2 2042L1531 2043.8L1529.8 2042.6L1528.5 2041.7L1527.3 2043.2L1526 2045.5L1524.8 2043.6L1523.5 2044.2L1522.3 2046.1L1521.1 2046L1519.8 2045.9L1518.6 2045.8L1517.3 2046.2L1516.1 2045.9L1514.8 2045.2L1513.6 2046.9L1512.4 2048.9L1511.1 2048.6L1509.9 2049.8L1508.6 2049.9L1507.4 2052.8L1506.2 2051.3L1504.9 2052.5L1503.7 2051.8L1502.4 2052.6L1501.2 2054.2L1499.9 2055.2L1498.7 2054.5L1497.5 2053.8L1496.2 2054.6L1495 2053.9L1493.7 2054.1L1492.5 2055.6L1491.2 2054.8L1490 2056.1L1488.7 2056.6L1487.5 2057.2L1486.2 2057.9L1485 2057.6L1483.7 2058.6L1482.4 2057.5L1481.2 2058L1479.9 2058.2L1478.7 2059.3L1477.4 2056.9L1476.2 2057.3L1474.9 2055.2L1473.6 2057.8L1472.4 2056.2L1471.1 2057.3L1469.9 2058.8L1468.6 2058.1L1467.3 2059.1L1466 2059.1L1464.8 2059.3L1463.5 2059.8L1462.2 2060.7L1460.9 2061L1459.7 2060L1458.4 2061.1L1457.1 2060.9L1455.8 2062.2L1454.6 2062.8L1453.3 2062.4L1452 2063.1L1450.8 2063.5L1449.5 2064.6L1448.2 2064.5L1446.9 2064.6L1445.6 2064.9L1444.4 2066.5L1443.1 2066.7L1441.8 2067.8L1440.5 2069.6L1439.3 2069.7L1438 2069.9L1436.7 2071.3L1435.4 2070.5L1434.2 2071.1L1432.9 2070.4L1431.6 2070.8L1430.3 2071L1429.1 2072.5L1427.8 2072.1L1426.5 2072.8L1425.2 2073.5L1424 2073.3L1422.7 2073.7L1421.4 2075.7L1420.1 2075.9L1418.9 2076.2L1417.6 2077.3L1416.3 2078.3L1415 2078.8L1413.8 2078.4L1412.5 2079.1L1411.2 2079L1409.9 2078.4L1408.6 2079.8L1407.4 2080.1L1406.1 2079.5L1404.8 2079.9L1403.5 2080.2L1402.2 2079.9L1401 2079.2L1399.7 2081.4L1398.4 2081.5L1397.1 2081.5L1395.8 2081.9L1394.6 2081.3L1393.3 2081.7L1392 2080.7L1390.8 2078L1389.6 2077.7L1388.4 2080.6L1387.2 2078.3L1386 2081.3L1384.8 2081.5L1383.6 2078.4L1382.4 2079.6L1381.2 2082.5L1380 2083.5L1378.8 2080.6L1377.6 2084.9L1376.5 2079.8L1375.3 2080.4L1374.1 2077.7L1372.9 2080.5L1371.8 2080.2L1370.7 2085.1L1369.6 2081.4ZM1604.6 2106.2L1605.7 2108.1L1606.8 2111.2L1607.9 2112.9L1609 2116L1610.3 2117.4L1611.6 2120.1L1612.9 2120.3L1614.2 2120.4L1615.5 2122.2L1616.8 2121.8L1618 2121.6L1619.3 2122.8L1620.6 2121.7L1621.9 2123.7L1623.2 2124.4L1624.4 2123.8L1625.7 2124.6L1627 2126.6L1628.3 2129.1L1629.6 2129.7L1630.9 2131.8L1632.2 2134.3L1632.2 2147.6L1630.9 2144.5L1629.6 2144L1628.3 2143.4L1627 2141.2L1625.7 2137.3L1624.4 2136.9L1623.2 2136.8L1621.9 2135.8L1620.6 2135.2L1619.3 2136.2L1618 2136.4L1616.8 2134.2L1615.5 2134.7L1614.2 2134.2L1612.9 2132.4L1611.6 2131.6L1610.3 2128.7L1609 2125.3L1607.9 2122.3L1606.8 2119.1L1605.7 2112.9L1604.6 2110.1ZM1634.3 2169.3L1635.8 2167.4L1637.2 2164.6L1638.4 2170.3L1639.5 2164.3L1640.7 2164.9L1641.8 2162.1L1643 2166.9L1644.2 2161.3L1645.3 2164.2L1646.5 2164L1647.7 2164.4L1648.8 2163.5L1650 2163.3L1651.2 2164.6L1652.5 2162.5L1653.8 2162.3L1655 2161.9L1656.2 2161.5L1657.5 2161.4L1658.8 2160.9L1660 2161.4L1661.3 2160.8L1662.6 2162L1663.9 2161L1665.1 2159.8L1666.4 2161.1L1667.7 2160L1669 2158.8L1670.3 2160.1L1671.6 2160.5L1672.8 2161L1674.1 2162L1675.4 2160.4L1676.7 2159.7L1678 2159.9L1679.2 2160.7L1680.5 2159.8L1681.8 2158.5L1683.1 2158.1L1684.3 2158L1685.6 2157.6L1686.9 2157.3L1688.2 2157.1L1689.5 2157.9L1690.7 2157.3L1692 2158L1693.3 2157.3L1694.7 2156L1696 2155.7L1696 2171L1694.7 2172L1693.3 2171.8L1692 2172.3L1690.7 2171.9L1689.5 2172.2L1688.2 2171.6L1686.9 2173.7L1685.6 2173.5L1684.3 2172L1683.1 2173.9L1681.8 2172.9L1680.5 2173.1L1679.2 2174.3L1678 2174.8L1676.7 2175.2L1675.4 2174.7L1674.1 2176.5L1672.8 2176.1L1671.6 2175.8L1670.3 2176.7L1669 2177.6L1667.7 2177.8L1666.4 2179.6L1665.1 2177.8L1663.9 2178.8L1662.6 2178.7L1661.3 2179.4L1660 2179.1L1658.8 2178.6L1657.5 2179.6L1656.2 2179.5L1655 2181L1653.8 2179.8L1652.5 2179.4L1651.2 2181L1650 2181.4L1648.8 2184.3L1647.7 2184.1L1646.5 2184.1L1645.3 2185.2L1644.2 2186.2L1643 2184L1641.8 2187.1L1640.7 2188.8L1639.5 2188L1638.4 2190.9L1637.2 2188L1635.8 2189.6L1634.3 2192.6Z" fill="#3dfd45" stroke="#3dfd45" stroke-width="0.8" stroke-linejoin="round"/>
<path d="M152 2067.5v3.4M158.9 2075.2v2.2M166.4 2073.1v2M167.6 2073.2v3.2M171.3 2069.1v2.8M175 2070.6v3.4M176.3 2057.8v2.6M181.2 2054.4v3.3M194.8 2059.8v1.8M199.8 2048v3.1M203.5 2058.4v1.6M204.7 2046.1v2.5M212.2 2052.8v3.5M214.7 2050.9v1.7M220.9 2038.5v3.2M222.1 2034.2v1.5M224.6 2035.8v2.2M228.4 2031.3v2.6M234.6 2028.2v1.5M238.3 2039.3v2.7M243.3 2036.2v1.8M245.8 2024.2v2.3M253.2 2021.4v2.8M259.5 2019.5v2.1M269.4 2014v2M270.7 2013.5v1.8M274.4 2024.7v1.7M278.1 2011.4v1.6M284.3 2019.9v1.7M288.1 2016.9v2.5M291.8 2004.3v3.1M293 2016v2.5M294.3 2006.5v2.5M299.3 2013.5v2.2M301.8 2000.9v3.2M305.5 2011.9v3.4M310.4 1999.8v3.5M312.9 1998.5v3.2M317.8 2006.1v2.9M319.1 2007.1v2.8M325.2 1995.6v1.9M326.5 2002.1v1.6M328.9 1991.9v2.5M333.9 2000.3v3.4M336.4 1999.4v1.7M337.6 2000.6v2.2M349 1981.7v2.7M357.9 1980.5v2.2M363 1979.8v1.9M368 1988.1v1.8M369.3 1987.8v1.8M371.8 1989.2v3.5M373.1 1977v3.2M374.3 1978.6v2.4M375.6 1978.7v1.7M376.8 1975.5v3M378.1 1976.9v2.5M384.6 2006.3v2.8M388.3 2019.8v2M393.3 2018.1v3.3M399.9 2018.6v3.3M402.5 2015.3v2.7M403.8 2004.6v3.4M415.3 2001.8v1.9M420.4 2001.8v2.8M422.9 1996.9v2.2M424.2 2009.7v2.9M429.3 2006.9v2.8M431.9 1993.5v2M434.4 2001.2v1.8M442.1 2000.7v2.5M443.3 1998.9v1.7M444.6 1985.8v2.4M447.2 1984.8v2.4M454.8 1991.4v2.5M457.3 1990.6v2.8M462.4 1977.1v3M463.7 1988.3v2.1M464.9 1977.5v2.9M466.2 1990.3v2.8M468.7 1978.8v2.2M471.3 1977v3.1M476.5 1976.2v2.5M477.8 1985.4v2.8M479 1973.7v2.4M481.3 1976.3v2.5M482.5 1987.4v3.2M487.8 2087.6v3.4M492.2 2086.6v2.4M500.7 2084.3v1.9M507 2068.4v3.4M510.9 2067.4v2.5M513.4 2079.7v2.7M518.6 2070.8v3.4M519.9 2081.7v2.5M521.1 2078.3v3.3M523.6 2067.8v1.8M526.2 2068v1.9M528.7 2079.5v3M531.2 2068.6v2.9M533.7 2066v3.2M542.5 2075.4v1.6M543.7 2074.3v1.6M553.6 2068.8v2.5M556.1 2058v2M562.4 2065.5v3.5M569.8 2052.9v3M572.3 2053.1v1.6M576 2063.5v2.6M581 2051.1v2.3M582.2 2050.7v2.4M593.4 2047.1v2.4M597.2 2057.5v1.6M598.4 2045.4v2.6M600.9 2045.7v3.3M602.1 2044.3v1.6M603.4 2046.5v1.6M608.4 2056.7v3M609.6 2043v3.1M610.9 2056.1v3.1M614.6 2042.7v3.1M620.8 2040.7v2.7M625.8 2038.3v3.1M628.3 2037.2v3.5M630.8 2045.2v1.7M632 2032.8v2M633.2 2045.7v2.7M637 2031.3v2.9M639.5 2042.5v2.3M650.7 2030.1v2.4M653.1 2038.2v2.9M654.4 2036.4v1.6M656.9 2029.8v2.8M664.3 2023.1v2.6M670.6 2024.6v3.1M673 2033.3v2.2M674.3 2024.1v1.8M685.5 2018.4v3M690.4 2020v2.7M691.6 2028.8v2M692.9 2016.8v3.2M699.1 2017.8v2.9M700.3 2017.7v2.6M701.5 2015.4v1.7M706.5 2027.9v1.7M707.7 2025.8v1.8M713.9 2013v3.2M715.1 2015.6v2.8M716.4 2015.8v1.6M717.6 2024v1.9M718.8 2015.8v1.6M720.1 2014.8v1.9M721.3 2013.4v3.4M726.2 2021.8v2M742.6 2106.5v1.6M743.7 2110.4v3.1M746 2119.1v3.4M747.2 2126.3v2.4M751.9 2125.5v2.3M759.3 2130.9v2.6M768.8 2151v2.9M770.2 2140.1v3.4M773.7 2192v3M774.8 2192.3v2.7M781.4 2186.9v2.5M788.9 2181.8v2.3M790.1 2166.4v3.3M796.5 2176.3v3M797.7 2179.1v3.4M799 2166.1v2.6M800.2 2166v3.1M805.1 2163.3v1.5M808.8 2174.5v2.5M814.8 2160.2v3.1M825.8 2168v1.7M828.4 2167.9v1.9M832.2 2156.7v3.4M834.8 2155.1v1.6M838.6 2161.4v2.4M839.9 2150.9v2.1M841.2 2153.6v1.8M842.5 2152v1.8M847.6 2149v1.8M850.1 2161.1v2.1M851.4 2157.9v1.7M852.7 2156.9v3.3M859.1 2153v1.8M860.4 2154.6v1.7M861.6 2150.3v3.3M862.9 2141v2M864.2 2150.2v1.8M870.6 2136.8v3.3M880.8 2129.1v2.1M882 2128v2.4M883.3 2137.6v2.6M887.1 2123.5v1.8M894.8 2122.2v3M899.9 2126.8v3.1M901.1 2117.9v2.1M916.2 2122.8v2.6M917.5 2121.5v3.1M922.5 2109.5v1.7M924.9 2118.4v2.4M937.4 2112.9v1.7M939.9 2108.6v2.8M941.1 2098.5v1.9M942.4 2110.3v1.5M953.5 2104.8v2.1M954.8 2102.8v2.1M958.5 2100.9v2M963.5 2098.3v2.3M972.2 2086.9v3.2M973.4 2094.8v3.4M974.7 2097.4v2.3M975.9 2097.1v1.6M978.4 2097.4v2.6M987.1 2091.1v2.2M989.6 2091v3.3M990.9 2089.7v1.8M992.1 2088.2v2M993.3 2085.6v2.2M998.3 2072.5v3.5M1002 2084.5v2.3M1004.5 2069.9v1.7M1007 2082v2.7M1013.2 2079.3v1.6M1014.5 2067.5v3.5M1015.7 2066.8v2M1017 2065.8v3.5M1018.2 2073.9v3.4M1022 2071.7v1.9M1023.2 2061.5v3.3M1024.4 2062.6v2.2M1025.7 2072.4v2.4M1030.7 2071.3v1.7M1034.4 2068.7v2.8M1036.9 2067.1v2.5M1040.6 2053.8v3.5M1041.9 2066v1.9M1051.8 2048v3.2M1059.3 2047v3.4M1063 2056v2.9M1065.5 2051.1v3.2M1070.4 2052.7v1.6M1075.4 2047.9v3.2M1077.8 2050.3v3M1079.1 2047v1.5M1081.5 2045.3v3.1M1084 2035.1v3.3M1090.2 2042.6v2.9M1096.4 2027.9v3M1097.6 2036.2v2.3M1105 2035.6v3M1112.5 2031.5v2.6M1116.2 2017.7v2.6M1119.9 2016.6v2.9M1123.6 2027.1v2M1124.9 2025.7v3.4M1126.1 2023.1v2.4M1128.6 2014.1v3.3M1136.1 2009.7v3.5M1141.1 2008.3v2M1143.5 2010.5v2.9M1146 2018.7v2.1M1147.3 2016.5v2.5M1148.5 2004.9v2.4M1153.5 2013.7v1.7M1154.7 2002.7v2.7M1157.2 2000.1v2.6M1159.7 1998.8v2.2M1161 2010.7v1.9M1163.4 2009.6v2.3M1164.7 1995.8v3.2M1165.9 1996.5v3.2M1168.4 1994.5v1.9M1173.4 1995.7v1.6M1175.9 1993.5v3.4M1178.4 2004.3v2.7M1198.3 1994.8v2M1200.8 1983.3v2.4M1208.2 1989.1v1.6M1213.1 1988.1v2.5M1214.4 1975.8v3.4M1216.8 1986v1.8M1218.1 1976.2v2.1M1220.5 1984.2v3.1M1221.8 1975.2v3.3M1223 1983.8v3.4M1232.9 1971.6v2.7M1234.1 1982.4v2.8M1235.4 1983.2v2.5M1236.6 1982.4v2.5M1239.1 1968.8v3.2M1244.1 1966.5v3.3M1251.8 1967.1v1.8M1255.6 1973.1v1.8M1259.4 1971.9v3M1260.7 1971.1v3.4M1263.2 1962.8v2.8M1268.3 1959.9v2.9M1273.5 1995.1v2.8M1276.2 1997v3.4M1282.6 1999.6v2.8M1283.8 2002.9v2.6M1287.3 2011.4v1.6M1294.7 1999.9v2.8M1298.7 1997.8v1.8M1306.2 1996.8v2.8M1308.6 2003.6v3.5M1309.8 2006.4v1.7M1314.8 2004.7v2.9M1319.7 1991.3v3.3M1324.6 1991v3.4M1339.3 1980.9v2.7M1341.8 1982v2M1343 1989.4v1.6M1346.7 1989.4v2.3M1349.2 1986.8v3M1352.8 1976.4v3M1359 1974.9v1.9M1365.9 1983.2v2.3M1367.3 1983.2v2.4M1369.6 2062.6v2.1M1370.7 2061.6v1.6M1371.8 2084.3v2.8M1372.9 2062.4v2.5M1374.1 2061.9v2.2M1375.3 2063v1.8M1377.6 2064.2v3.3M1378.8 2080.1v2.5M1384.8 2079.7v2.6M1390.8 2066.2v1.9M1392 2065v2.5M1393.3 2066.3v2.6M1399.7 2077.9v3M1411.2 2073.5v2.9M1413.8 2076.1v3M1417.6 2072.6v3.4M1420.1 2064.6v3.4M1425.2 2072.7v3.2M1426.5 2061.5v2M1431.6 2057.7v1.8M1440.5 2063.6v2.9M1444.4 2054.4v2.1M1453.3 2058.5v3.5M1455.8 2058.1v3.3M1458.4 2056.4v3.5M1462.2 2055.8v2.4M1467.3 2044v2.5M1469.9 2044.1v3.4M1473.6 2055.6v3M1474.9 2053.8v2.8M1476.2 2044.9v2.1M1490 2054.1v1.9M1491.2 2043.1v3.2M1492.5 2054.3v3.5M1496.2 2051.4v2.6M1499.9 2050.7v2.8M1506.2 2037.7v3.2M1507.4 2049.6v2.7M1509.9 2048v3.4M1514.8 2032.1v2.4M1516.1 2045.8v1.5M1519.8 2035.9v3.4M1522.3 2034.4v2.9M1527.3 2033.1v3.5M1537.2 2040.7v1.8M1538.5 2037.9v2.6M1542.2 2038.2v1.7M1545.9 2038.5v1.9M1550.9 2035.9v3.2M1568.3 2032.8v2M1573.3 2027.8v2.6M1574.5 2019.9v2.5M1580.8 2016.5v2.7M1582 2027.9v2.3M1586 2023.4v2M1587.3 2013.1v2.7M1588.6 2014.4v2.4M1606.8 2115.9v2.4M1607.9 2114.4v2.3M1609 2117.4v2.6M1611.6 2119.2v2.7M1612.9 2127.7v3.2M1619.3 2136.4v1.9M1620.6 2134.4v3.3M1623.2 2126.2v2M1630.9 2144.8v2.1M1639.5 2166.9v2.4M1640.7 2169.1v1.5M1645.3 2183.2v1.8M1646.5 2182.5v2.1M1651.2 2179v2.9M1652.5 2177.6v2M1653.8 2165.8v3M1656.2 2164.6v2.7M1658.8 2163.9v3.1M1663.9 2165.3v2.4M1665.1 2165.3v2M1666.4 2176.4v1.8M1669 2163v3.2M1671.6 2165.4v2.9M1676.7 2172.6v1.9M1678 2163.8v3.3M1679.2 2174.1v3M1680.5 2162.2v3M1681.8 2172.7v2.8M1683.1 2170.1v2.3M1684.3 2170.6v1.7M1692 2160.7v3.4M1693.3 2158.7v1.6M1694.7 2166.9v2.9" stroke="#10a81a" stroke-width="1.4" fill="none" stroke-opacity="0.55"/>
<path d="M379.3 1976L380.6 2022M482.5 1975L484 2000L486.7 2064.8L488.2 2106M728.6 2012L731 2030L736.6 2070L740.4 2089.1L742.6 2108M770.6 2140L771.2 2170L771.8 2206.5M1269.6 1962L1271 2012M1367.5 1972L1368.4 2020L1369 2070L1369.8 2104M1592.6 2014L1594.2 2041L1597.3 2061.4L1601.2 2086.9L1604.6 2108M1632.6 2138L1633.6 2170L1634.6 2206" stroke="#3dfd45" stroke-width="2.9" fill="none" stroke-linejoin="round" stroke-linecap="round"/>
<path d="M381.1 1982v4.7M381.2 1986.6v2.3M381.4 1994.9v4.5M381.6 1999.3v4.3M378.6 2006.2v4.1M382 2014.1v3.1M382 2015.6v3.9M481.1 1978.5v3.5M481.6 1986.9v4M485.2 1993.2v2.4M482.6 2003.8v4.7M486 2010.2v2.4M486.4 2018.7v3.8M483.6 2028.2v4.2M486.9 2031.3v3.9M487.3 2040.2v2.9M487.6 2048.2v2.9M488 2057v3.4M488 2057.8v4.1M488.5 2069.6v3.9M488.6 2072.3v4.2M485.6 2078.9v2.3M489.1 2087.7v4.6M486.1 2092.9v3.9M486.5 2102.4v2.9M728.1 2020.6v4.7M731.4 2021.1v4.2M733.5 2036.1v2.7M730.9 2040.6v2.8M732 2048.5v5M735.8 2053.1v4.8M736.7 2059.6v2.8M737.6 2065.8v2.8M736.7 2078.6v3.7M737.5 2082.4v3.6M742.7 2094.8v4.9M744.2 2107.6v3.7M772.3 2146.6v4M772.4 2149.7v2.9M769.3 2155.8v2.3M772.8 2167.8v2.9M772.8 2171.6v3.6M769.8 2183.2v2.5M769.9 2187.7v3.4M773.2 2196.4v2.6M770.2 2205.3v4.4M1271.4 1968.7v3.1M1271.5 1973v4.3M1268.4 1976.9v3M1268.8 1990v5M1268.9 1993v4.9M1269.2 2003.4v4.3M1272.4 2006.4v3M1366 1976.2v4.9M1369.3 1982.7v4.4M1369.4 1987.9v4M1369.6 1997.2v2.2M1369.7 2002.3v2.7M1366.6 2007v2.5M1369.9 2015.1v2.2M1370 2023.8v3.6M1370.1 2031.1v2M1370.2 2037.7v2.3M1367.1 2046.4v2.3M1367.2 2050.6v3.6M1367.2 2056.3v2.7M1370.6 2066.4v3.9M1370.7 2072.9v4M1370.8 2077.6v2.4M1367.8 2086.2v3.1M1371.2 2094.9v2.4M1371.3 2098.9v2.2M1594.4 2016.8v3M1591.7 2025.4v4.9M1591.9 2029.7v2.7M1595.5 2036.5v3.9M1592.8 2042v2.3M1597.1 2049.6v3.2M1594.7 2055.1v4.2M1596.8 2068.3v4.4M1597.8 2074.9v2.9M1601.5 2078.6v4.2M1603.6 2091.7v2.7M1604 2094.6v3.4M1602.9 2107.5v3.8M1634.4 2143.3v5M1631.5 2152.8v5M1634.8 2156.4v4M1632 2168.6v3.7M1632.1 2172.2v3.9M1632.4 2183.9v3.3M1635.7 2186.2v3.7M1632.6 2192.2v4.3M1632.8 2199.2v3.4" stroke="#0a5a10" stroke-width="1.6" fill="none" stroke-opacity="0.85"/>
<rect x="150.9" y="1382.7" width="1549" height="997.1" fill="none" stroke="#000" stroke-width="11" stroke-linejoin="round"/>
<text class="b" transform="translate(87.20 1406.90) scale(1.02 1.033)">V</text>
<text class="b" transform="translate(86.10 1530.60) scale(1.02 1.033)">500</text>
<text class="b" transform="translate(86.10 1654.60) scale(1.02 1.033)">250</text>
<text class="b" transform="translate(86.50 1779.40) scale(1.02 1.033)">0</text>
<text class="b" transform="translate(86.10 1902.60) scale(1.02 1.033)">A</text>
<text class="b" transform="translate(87.40 2028.40) scale(1.02 1.033)">10</text>
<text class="b" transform="translate(85.90 2149.70) scale(1.02 1.033)">0</text>
<text class="b" transform="translate(67.30 2278.70) scale(1.02 1.033)">−10</text>
<text class="bi" x="577.50" y="1580.50" font-size="82">v<tspan font-size="55.5" dy="11.5" dx="-1.5" letter-spacing="0">ce7</tspan></text>
<text class="bi" x="575.00" y="1997.00" font-size="83">i<tspan font-size="55.5" dy="11" dx="-1.5" letter-spacing="0">ce7</tspan></text>
<rect x="856" y="1388.2" width="150" height="24" fill="#fff"/>
<text x="860.3" y="1408.4" style="font-family:'Liberation Sans',sans-serif;font-size:26px;font-weight:bold" fill="#333" textLength="140.5" lengthAdjust="spacingAndGlyphs" word-spacing="5">Main : 125 k</text>
<text transform="translate(1556.70 1410.94) scale(0.2875 0.2975)" style="font-family:'Liberation Sans',sans-serif;font-size:100px" fill="#1a1a1a">10us/div</text>
<text transform="translate(1575.21 2288.81) scale(0.4353 0.4450)" style="font-family:'Liberation Serif',serif;font-size:100px" fill="#000">10 us</text>
<path d="M1560.8 2315.2H1682.4" stroke="#000" stroke-width="4.2" fill="none"/>
<path d="M1543.2 2315.2L1565.2 2304.2Q1559.5 2315.2 1565.2 2326.2Z" fill="#000"/>
<path d="M1700 2315.2L1678 2304.2Q1683.7 2315.2 1678 2326.2Z" fill="#000"/>
<rect x="150.9" y="1382.7" width="1549" height="997.1" fill="none" stroke="#000" stroke-width="11" stroke-linejoin="round"/>
<text transform="translate(812.08 2516.95) scale(0.6501 0.7603)" style="font-family:'Liberation Serif',serif;font-size:100px" fill="#000">(</text>
<text transform="translate(836.10 2516.57) scale(0.7984 0.7863)" style="font-family:'Liberation Serif',serif;font-weight:bold;font-size:100px" fill="#000">b</text>
<text transform="translate(881.47 2516.95) scale(0.6880 0.7603)" style="font-family:'Liberation Serif',serif;font-size:100px" fill="#000">)</text>
</svg></body></html>
